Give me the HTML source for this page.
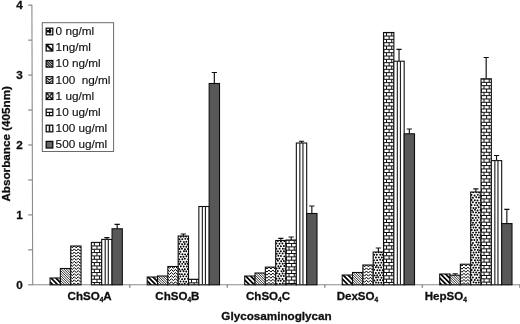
<!DOCTYPE html>
<html><head><meta charset="utf-8"><title>Glycosaminoglycan absorbance</title>
<style>
html,body{margin:0;padding:0;background:#fff;}
body{width:520px;height:324px;overflow:hidden;}
svg{display:block;will-change:transform;opacity:0.999;}
text{font-family:"Liberation Sans",Arial,sans-serif;fill:#111;}
.b{font-weight:bold;font-size:11.7px;stroke:#111;stroke-width:0.3px;}
.xl{font-size:11.55px;}
.sub{font-size:6.6px;}
.lg{font-size:11.75px;stroke:#111;stroke-width:0.15px;}
</style></head><body>
<svg width="520" height="324" viewBox="0 0 520 324">
<defs>
<filter id="soft" x="0" y="0" width="520" height="324" filterUnits="userSpaceOnUse"><feGaussianBlur stdDeviation="0.36"/></filter>
<clipPath id="c01"><rect x="50.05" y="278.00" width="10.33" height="6.80"/></clipPath>
<clipPath id="c02"><rect x="60.38" y="268.50" width="10.33" height="16.30"/></clipPath>
<clipPath id="c03"><rect x="70.71" y="246.00" width="10.33" height="38.80"/></clipPath>
<clipPath id="c05"><rect x="91.37" y="242.40" width="10.33" height="42.40"/></clipPath>
<clipPath id="c11"><rect x="147.20" y="277.00" width="10.33" height="7.80"/></clipPath>
<clipPath id="c12"><rect x="157.53" y="276.00" width="10.33" height="8.80"/></clipPath>
<clipPath id="c13"><rect x="167.86" y="266.50" width="10.33" height="18.30"/></clipPath>
<clipPath id="c14"><rect x="178.19" y="236.00" width="10.33" height="48.80"/></clipPath>
<clipPath id="c15"><rect x="188.52" y="279.30" width="10.33" height="5.50"/></clipPath>
<clipPath id="c21"><rect x="244.70" y="276.00" width="10.33" height="8.80"/></clipPath>
<clipPath id="c22"><rect x="255.03" y="273.00" width="10.33" height="11.80"/></clipPath>
<clipPath id="c23"><rect x="265.36" y="267.10" width="10.33" height="17.70"/></clipPath>
<clipPath id="c24"><rect x="275.69" y="240.50" width="10.33" height="44.30"/></clipPath>
<clipPath id="c25"><rect x="286.02" y="240.00" width="10.33" height="44.80"/></clipPath>
<clipPath id="c31"><rect x="342.20" y="275.00" width="10.33" height="9.80"/></clipPath>
<clipPath id="c32"><rect x="352.53" y="272.50" width="10.33" height="12.30"/></clipPath>
<clipPath id="c33"><rect x="362.86" y="265.00" width="10.33" height="19.80"/></clipPath>
<clipPath id="c34"><rect x="373.19" y="252.00" width="10.33" height="32.80"/></clipPath>
<clipPath id="c35"><rect x="383.52" y="32.50" width="10.33" height="252.30"/></clipPath>
<clipPath id="c41"><rect x="439.70" y="274.00" width="10.33" height="10.80"/></clipPath>
<clipPath id="c42"><rect x="450.03" y="275.20" width="10.33" height="9.60"/></clipPath>
<clipPath id="c43"><rect x="460.36" y="264.20" width="10.33" height="20.60"/></clipPath>
<clipPath id="c44"><rect x="470.69" y="192.00" width="10.33" height="92.80"/></clipPath>
<clipPath id="c45"><rect x="481.02" y="78.80" width="10.33" height="206.00"/></clipPath>
</defs>
<rect width="520" height="324" fill="#fff"/>
<g filter="url(#soft)">
<!-- axes -->
<path d="M31.9 4.8L32.7 284.8H520" stroke="#8c8c8c" stroke-width="1.1" fill="none"/>
<path d="M28.2 284.80H32.70" stroke="#888" stroke-width="1.2"/>
<path d="M28.2 249.85H32.60" stroke="#888" stroke-width="1.2"/>
<path d="M28.2 214.90H32.50" stroke="#888" stroke-width="1.2"/>
<path d="M28.2 179.95H32.40" stroke="#888" stroke-width="1.2"/>
<path d="M28.2 145.00H32.30" stroke="#888" stroke-width="1.2"/>
<path d="M28.2 110.05H32.20" stroke="#888" stroke-width="1.2"/>
<path d="M28.2 75.10H32.10" stroke="#888" stroke-width="1.2"/>
<path d="M28.2 40.15H32.00" stroke="#888" stroke-width="1.2"/>
<path d="M28.2 5.20H31.90" stroke="#888" stroke-width="1.2"/>
<text x="22.8" y="288.50" class="b" text-anchor="end">0</text>
<text x="22.8" y="218.60" class="b" text-anchor="end">1</text>
<text x="22.8" y="148.70" class="b" text-anchor="end">2</text>
<text x="22.8" y="78.80" class="b" text-anchor="end">3</text>
<text x="22.8" y="8.90" class="b" text-anchor="end">4</text>
<path d="M129.80 284.8V287.7" stroke="#888" stroke-width="1.3"/>
<path d="M227.30 284.8V287.7" stroke="#888" stroke-width="1.3"/>
<path d="M324.80 284.8V287.7" stroke="#888" stroke-width="1.3"/>
<path d="M422.30 284.8V287.7" stroke="#888" stroke-width="1.3"/>
<path d="M519.80 284.8V287.7" stroke="#888" stroke-width="1.3"/>
<!-- bars -->
<rect x="50.05" y="278.00" width="10.33" height="6.80" fill="#fff"/>
<g clip-path="url(#c01)"><path d="M40.15 277.00L48.95 285.80M45.05 277.00L53.85 285.80M49.95 277.00L58.75 285.80M54.85 277.00L63.65 285.80M59.75 277.00L68.55 285.80M64.65 277.00L73.45 285.80" stroke="#000" stroke-width="1.75" fill="none"/></g>
<rect x="50.05" y="278.00" width="10.33" height="6.80" fill="none" stroke="#111" stroke-width="1.1"/>
<rect x="60.38" y="268.50" width="10.33" height="16.30" fill="#fff"/>
<g clip-path="url(#c02)"><path d="M40.28 267.50L58.58 285.80M42.73 267.50L61.03 285.80M45.18 267.50L63.48 285.80M47.63 267.50L65.93 285.80M50.08 267.50L68.38 285.80M52.53 267.50L70.83 285.80M54.98 267.50L73.28 285.80M57.43 267.50L75.73 285.80M59.88 267.50L78.18 285.80M62.33 267.50L80.63 285.80M64.78 267.50L83.08 285.80M67.23 267.50L85.53 285.80M69.68 267.50L87.98 285.80M72.13 267.50L90.43 285.80" stroke="#111" stroke-width="0.88" fill="none"/></g>
<rect x="60.38" y="268.50" width="10.33" height="16.30" fill="none" stroke="#111" stroke-width="1.1"/>
<rect x="70.71" y="246.00" width="10.33" height="38.80" fill="#fff"/>
<g clip-path="url(#c03)"><path d="M68.36 244.81L70.33 242.71L72.31 244.81L74.28 242.71L76.26 244.81L78.23 242.71L80.21 244.81L82.18 242.71L84.16 244.81M68.36 247.90L70.33 245.80L72.31 247.90L74.28 245.80L76.26 247.90L78.23 245.80L80.21 247.90L82.18 245.80L84.16 247.90M68.36 250.99L70.33 248.89L72.31 250.99L74.28 248.89L76.26 250.99L78.23 248.89L80.21 250.99L82.18 248.89L84.16 250.99M68.36 254.08L70.33 251.98L72.31 254.08L74.28 251.98L76.26 254.08L78.23 251.98L80.21 254.08L82.18 251.98L84.16 254.08M68.36 257.17L70.33 255.07L72.31 257.17L74.28 255.07L76.26 257.17L78.23 255.07L80.21 257.17L82.18 255.07L84.16 257.17M68.36 260.26L70.33 258.16L72.31 260.26L74.28 258.16L76.26 260.26L78.23 258.16L80.21 260.26L82.18 258.16L84.16 260.26M68.36 263.35L70.33 261.25L72.31 263.35L74.28 261.25L76.26 263.35L78.23 261.25L80.21 263.35L82.18 261.25L84.16 263.35M68.36 266.44L70.33 264.34L72.31 266.44L74.28 264.34L76.26 266.44L78.23 264.34L80.21 266.44L82.18 264.34L84.16 266.44M68.36 269.53L70.33 267.43L72.31 269.53L74.28 267.43L76.26 269.53L78.23 267.43L80.21 269.53L82.18 267.43L84.16 269.53M68.36 272.62L70.33 270.52L72.31 272.62L74.28 270.52L76.26 272.62L78.23 270.52L80.21 272.62L82.18 270.52L84.16 272.62M68.36 275.71L70.33 273.61L72.31 275.71L74.28 273.61L76.26 275.71L78.23 273.61L80.21 275.71L82.18 273.61L84.16 275.71M68.36 278.80L70.33 276.70L72.31 278.80L74.28 276.70L76.26 278.80L78.23 276.70L80.21 278.80L82.18 276.70L84.16 278.80M68.36 281.89L70.33 279.79L72.31 281.89L74.28 279.79L76.26 281.89L78.23 279.79L80.21 281.89L82.18 279.79L84.16 281.89M68.36 284.98L70.33 282.88L72.31 284.98L74.28 282.88L76.26 284.98L78.23 282.88L80.21 284.98L82.18 282.88L84.16 284.98M68.36 288.07L70.33 285.97L72.31 288.07L74.28 285.97L76.26 288.07L78.23 285.97L80.21 288.07L82.18 285.97L84.16 288.07M68.36 291.16L70.33 289.06L72.31 291.16L74.28 289.06L76.26 291.16L78.23 289.06L80.21 291.16L82.18 289.06L84.16 291.16" stroke="#000" stroke-width="1.0" fill="none" stroke-linejoin="miter"/></g>
<rect x="70.71" y="246.00" width="10.33" height="38.80" fill="none" stroke="#111" stroke-width="1.1"/>
<rect x="91.37" y="242.40" width="10.33" height="42.40" fill="#fff"/>
<g clip-path="url(#c05)"><path d="M91.37 242.60H101.70M94.37 242.60V245.93M99.57 242.60V245.93M91.37 245.93H101.70M91.77 245.93V249.26M96.97 245.93V249.26M91.37 249.26H101.70M94.37 249.26V252.59M99.57 249.26V252.59M91.37 252.59H101.70M91.77 252.59V255.92M96.97 252.59V255.92M91.37 255.92H101.70M94.37 255.92V259.25M99.57 255.92V259.25M91.37 259.25H101.70M91.77 259.25V262.58M96.97 259.25V262.58M91.37 262.58H101.70M94.37 262.58V265.91M99.57 262.58V265.91M91.37 265.91H101.70M91.77 265.91V269.24M96.97 265.91V269.24M91.37 269.24H101.70M94.37 269.24V272.57M99.57 269.24V272.57M91.37 272.57H101.70M91.77 272.57V275.90M96.97 272.57V275.90M91.37 275.90H101.70M94.37 275.90V279.23M99.57 275.90V279.23M91.37 279.23H101.70M91.77 279.23V282.56M96.97 279.23V282.56M91.37 282.56H101.70M94.37 282.56V285.89M99.57 282.56V285.89M91.37 285.89H101.70M91.77 285.89V289.22M96.97 285.89V289.22" stroke="#111" stroke-width="1.0" fill="none"/></g>
<rect x="91.37" y="242.40" width="10.33" height="42.40" fill="none" stroke="#111" stroke-width="1.1"/>
<rect x="101.70" y="239.40" width="10.33" height="45.40" fill="#fff" stroke="#111" stroke-width="1.1"/>
<path d="M105.20 239.40V284.8M108.30 239.40V284.8" stroke="#222" stroke-width="1.15" fill="none"/>
<path d="M106.86 239.40V237.60M104.27 237.60H109.46" stroke="#111" stroke-width="1.15" fill="none"/>
<rect x="112.03" y="228.80" width="10.33" height="56.00" fill="#595959" stroke="#111" stroke-width="1.1"/>
<path d="M117.20 228.80V224.30M114.60 224.30H119.80" stroke="#111" stroke-width="1.15" fill="none"/>
<rect x="147.20" y="277.00" width="10.33" height="7.80" fill="#fff"/>
<g clip-path="url(#c11)"><path d="M132.40 276.00L142.20 285.80M137.30 276.00L147.10 285.80M142.20 276.00L152.00 285.80M147.10 276.00L156.90 285.80M152.00 276.00L161.80 285.80M156.90 276.00L166.70 285.80M161.80 276.00L171.60 285.80" stroke="#000" stroke-width="1.75" fill="none"/></g>
<rect x="147.20" y="277.00" width="10.33" height="7.80" fill="none" stroke="#111" stroke-width="1.1"/>
<rect x="157.53" y="276.00" width="10.33" height="8.80" fill="#fff"/>
<g clip-path="url(#c12)"><path d="M144.78 275.00L155.58 285.80M147.23 275.00L158.03 285.80M149.68 275.00L160.48 285.80M152.13 275.00L162.93 285.80M154.58 275.00L165.38 285.80M157.03 275.00L167.83 285.80M159.48 275.00L170.28 285.80M161.93 275.00L172.73 285.80M164.38 275.00L175.18 285.80M166.83 275.00L177.63 285.80M169.28 275.00L180.08 285.80" stroke="#111" stroke-width="0.88" fill="none"/></g>
<rect x="157.53" y="276.00" width="10.33" height="8.80" fill="none" stroke="#111" stroke-width="1.1"/>
<rect x="167.86" y="266.50" width="10.33" height="18.30" fill="#fff"/>
<g clip-path="url(#c13)"><path d="M165.51 265.31L167.49 263.21L169.46 265.31L171.44 263.21L173.41 265.31L175.38 263.21L177.36 265.31L179.33 263.21L181.31 265.31M165.51 268.40L167.49 266.30L169.46 268.40L171.44 266.30L173.41 268.40L175.38 266.30L177.36 268.40L179.33 266.30L181.31 268.40M165.51 271.49L167.49 269.39L169.46 271.49L171.44 269.39L173.41 271.49L175.38 269.39L177.36 271.49L179.33 269.39L181.31 271.49M165.51 274.58L167.49 272.48L169.46 274.58L171.44 272.48L173.41 274.58L175.38 272.48L177.36 274.58L179.33 272.48L181.31 274.58M165.51 277.67L167.49 275.57L169.46 277.67L171.44 275.57L173.41 277.67L175.38 275.57L177.36 277.67L179.33 275.57L181.31 277.67M165.51 280.76L167.49 278.66L169.46 280.76L171.44 278.66L173.41 280.76L175.38 278.66L177.36 280.76L179.33 278.66L181.31 280.76M165.51 283.85L167.49 281.75L169.46 283.85L171.44 281.75L173.41 283.85L175.38 281.75L177.36 283.85L179.33 281.75L181.31 283.85M165.51 286.94L167.49 284.84L169.46 286.94L171.44 284.84L173.41 286.94L175.38 284.84L177.36 286.94L179.33 284.84L181.31 286.94M165.51 290.03L167.49 287.93L169.46 290.03L171.44 287.93L173.41 290.03L175.38 287.93L177.36 290.03L179.33 287.93L181.31 290.03" stroke="#000" stroke-width="1.0" fill="none" stroke-linejoin="miter"/></g>
<rect x="167.86" y="266.50" width="10.33" height="18.30" fill="none" stroke="#111" stroke-width="1.1"/>
<rect x="178.19" y="236.00" width="10.33" height="48.80" fill="#fff"/>
<g clip-path="url(#c14)"><path d="M178.35 234.28a0.98 0.98 0 1 0 1.96 0a0.98 0.98 0 1 0 -1.96 0M181.38 233.83a0.98 0.98 0 1 0 1.96 0a0.98 0.98 0 1 0 -1.96 0M183.99 233.97a0.98 0.98 0 1 0 1.96 0a0.98 0.98 0 1 0 -1.96 0M186.95 234.15a0.98 0.98 0 1 0 1.96 0a0.98 0.98 0 1 0 -1.96 0M176.96 236.31a0.98 0.98 0 1 0 1.96 0a0.98 0.98 0 1 0 -1.96 0M179.79 236.76a0.98 0.98 0 1 0 1.96 0a0.98 0.98 0 1 0 -1.96 0M182.60 236.55a0.98 0.98 0 1 0 1.96 0a0.98 0.98 0 1 0 -1.96 0M185.22 236.44a0.98 0.98 0 1 0 1.96 0a0.98 0.98 0 1 0 -1.96 0M188.65 236.74a0.98 0.98 0 1 0 1.96 0a0.98 0.98 0 1 0 -1.96 0M178.55 239.26a0.98 0.98 0 1 0 1.96 0a0.98 0.98 0 1 0 -1.96 0M181.34 239.32a0.98 0.98 0 1 0 1.96 0a0.98 0.98 0 1 0 -1.96 0M184.30 238.87a0.98 0.98 0 1 0 1.96 0a0.98 0.98 0 1 0 -1.96 0M186.86 238.89a0.98 0.98 0 1 0 1.96 0a0.98 0.98 0 1 0 -1.96 0M176.47 241.66a0.98 0.98 0 1 0 1.96 0a0.98 0.98 0 1 0 -1.96 0M179.53 241.57a0.98 0.98 0 1 0 1.96 0a0.98 0.98 0 1 0 -1.96 0M182.93 241.92a0.98 0.98 0 1 0 1.96 0a0.98 0.98 0 1 0 -1.96 0M185.38 241.80a0.98 0.98 0 1 0 1.96 0a0.98 0.98 0 1 0 -1.96 0M188.54 241.85a0.98 0.98 0 1 0 1.96 0a0.98 0.98 0 1 0 -1.96 0M178.30 243.77a0.98 0.98 0 1 0 1.96 0a0.98 0.98 0 1 0 -1.96 0M181.08 244.31a0.98 0.98 0 1 0 1.96 0a0.98 0.98 0 1 0 -1.96 0M183.74 244.09a0.98 0.98 0 1 0 1.96 0a0.98 0.98 0 1 0 -1.96 0M186.62 244.43a0.98 0.98 0 1 0 1.96 0a0.98 0.98 0 1 0 -1.96 0M176.55 246.55a0.98 0.98 0 1 0 1.96 0a0.98 0.98 0 1 0 -1.96 0M179.68 246.82a0.98 0.98 0 1 0 1.96 0a0.98 0.98 0 1 0 -1.96 0M182.60 246.48a0.98 0.98 0 1 0 1.96 0a0.98 0.98 0 1 0 -1.96 0M185.34 246.84a0.98 0.98 0 1 0 1.96 0a0.98 0.98 0 1 0 -1.96 0M188.26 246.40a0.98 0.98 0 1 0 1.96 0a0.98 0.98 0 1 0 -1.96 0M178.47 248.99a0.98 0.98 0 1 0 1.96 0a0.98 0.98 0 1 0 -1.96 0M180.97 248.80a0.98 0.98 0 1 0 1.96 0a0.98 0.98 0 1 0 -1.96 0M183.96 249.19a0.98 0.98 0 1 0 1.96 0a0.98 0.98 0 1 0 -1.96 0M186.95 249.02a0.98 0.98 0 1 0 1.96 0a0.98 0.98 0 1 0 -1.96 0M176.56 251.47a0.98 0.98 0 1 0 1.96 0a0.98 0.98 0 1 0 -1.96 0M179.39 251.71a0.98 0.98 0 1 0 1.96 0a0.98 0.98 0 1 0 -1.96 0M182.93 251.26a0.98 0.98 0 1 0 1.96 0a0.98 0.98 0 1 0 -1.96 0M185.23 251.35a0.98 0.98 0 1 0 1.96 0a0.98 0.98 0 1 0 -1.96 0M188.49 251.45a0.98 0.98 0 1 0 1.96 0a0.98 0.98 0 1 0 -1.96 0M178.48 253.88a0.98 0.98 0 1 0 1.96 0a0.98 0.98 0 1 0 -1.96 0M181.44 254.25a0.98 0.98 0 1 0 1.96 0a0.98 0.98 0 1 0 -1.96 0M184.10 254.36a0.98 0.98 0 1 0 1.96 0a0.98 0.98 0 1 0 -1.96 0M186.95 254.33a0.98 0.98 0 1 0 1.96 0a0.98 0.98 0 1 0 -1.96 0M176.78 256.40a0.98 0.98 0 1 0 1.96 0a0.98 0.98 0 1 0 -1.96 0M179.77 256.81a0.98 0.98 0 1 0 1.96 0a0.98 0.98 0 1 0 -1.96 0M182.50 256.80a0.98 0.98 0 1 0 1.96 0a0.98 0.98 0 1 0 -1.96 0M185.36 256.27a0.98 0.98 0 1 0 1.96 0a0.98 0.98 0 1 0 -1.96 0M188.34 256.84a0.98 0.98 0 1 0 1.96 0a0.98 0.98 0 1 0 -1.96 0M178.34 259.38a0.98 0.98 0 1 0 1.96 0a0.98 0.98 0 1 0 -1.96 0M181.36 259.24a0.98 0.98 0 1 0 1.96 0a0.98 0.98 0 1 0 -1.96 0M183.87 258.85a0.98 0.98 0 1 0 1.96 0a0.98 0.98 0 1 0 -1.96 0M187.27 259.19a0.98 0.98 0 1 0 1.96 0a0.98 0.98 0 1 0 -1.96 0M177.07 261.62a0.98 0.98 0 1 0 1.96 0a0.98 0.98 0 1 0 -1.96 0M179.40 261.81a0.98 0.98 0 1 0 1.96 0a0.98 0.98 0 1 0 -1.96 0M182.68 261.92a0.98 0.98 0 1 0 1.96 0a0.98 0.98 0 1 0 -1.96 0M185.60 261.66a0.98 0.98 0 1 0 1.96 0a0.98 0.98 0 1 0 -1.96 0M188.38 261.40a0.98 0.98 0 1 0 1.96 0a0.98 0.98 0 1 0 -1.96 0M178.40 264.03a0.98 0.98 0 1 0 1.96 0a0.98 0.98 0 1 0 -1.96 0M181.22 263.87a0.98 0.98 0 1 0 1.96 0a0.98 0.98 0 1 0 -1.96 0M184.27 263.99a0.98 0.98 0 1 0 1.96 0a0.98 0.98 0 1 0 -1.96 0M186.69 263.76a0.98 0.98 0 1 0 1.96 0a0.98 0.98 0 1 0 -1.96 0M176.63 266.72a0.98 0.98 0 1 0 1.96 0a0.98 0.98 0 1 0 -1.96 0M179.81 266.25a0.98 0.98 0 1 0 1.96 0a0.98 0.98 0 1 0 -1.96 0M182.79 266.45a0.98 0.98 0 1 0 1.96 0a0.98 0.98 0 1 0 -1.96 0M185.80 266.59a0.98 0.98 0 1 0 1.96 0a0.98 0.98 0 1 0 -1.96 0M188.72 266.51a0.98 0.98 0 1 0 1.96 0a0.98 0.98 0 1 0 -1.96 0M178.36 269.17a0.98 0.98 0 1 0 1.96 0a0.98 0.98 0 1 0 -1.96 0M181.35 269.40a0.98 0.98 0 1 0 1.96 0a0.98 0.98 0 1 0 -1.96 0M183.87 269.14a0.98 0.98 0 1 0 1.96 0a0.98 0.98 0 1 0 -1.96 0M186.90 269.01a0.98 0.98 0 1 0 1.96 0a0.98 0.98 0 1 0 -1.96 0M176.50 271.33a0.98 0.98 0 1 0 1.96 0a0.98 0.98 0 1 0 -1.96 0M179.39 271.32a0.98 0.98 0 1 0 1.96 0a0.98 0.98 0 1 0 -1.96 0M182.66 271.28a0.98 0.98 0 1 0 1.96 0a0.98 0.98 0 1 0 -1.96 0M185.32 271.47a0.98 0.98 0 1 0 1.96 0a0.98 0.98 0 1 0 -1.96 0M188.15 271.50a0.98 0.98 0 1 0 1.96 0a0.98 0.98 0 1 0 -1.96 0M178.60 274.14a0.98 0.98 0 1 0 1.96 0a0.98 0.98 0 1 0 -1.96 0M180.98 274.14a0.98 0.98 0 1 0 1.96 0a0.98 0.98 0 1 0 -1.96 0M183.84 274.28a0.98 0.98 0 1 0 1.96 0a0.98 0.98 0 1 0 -1.96 0M186.98 274.15a0.98 0.98 0 1 0 1.96 0a0.98 0.98 0 1 0 -1.96 0M177.14 276.90a0.98 0.98 0 1 0 1.96 0a0.98 0.98 0 1 0 -1.96 0M179.45 276.53a0.98 0.98 0 1 0 1.96 0a0.98 0.98 0 1 0 -1.96 0M182.32 276.28a0.98 0.98 0 1 0 1.96 0a0.98 0.98 0 1 0 -1.96 0M185.43 276.39a0.98 0.98 0 1 0 1.96 0a0.98 0.98 0 1 0 -1.96 0M188.53 276.39a0.98 0.98 0 1 0 1.96 0a0.98 0.98 0 1 0 -1.96 0M177.91 278.83a0.98 0.98 0 1 0 1.96 0a0.98 0.98 0 1 0 -1.96 0M181.12 279.14a0.98 0.98 0 1 0 1.96 0a0.98 0.98 0 1 0 -1.96 0M183.78 279.04a0.98 0.98 0 1 0 1.96 0a0.98 0.98 0 1 0 -1.96 0M187.05 278.82a0.98 0.98 0 1 0 1.96 0a0.98 0.98 0 1 0 -1.96 0M176.50 281.56a0.98 0.98 0 1 0 1.96 0a0.98 0.98 0 1 0 -1.96 0M179.56 281.49a0.98 0.98 0 1 0 1.96 0a0.98 0.98 0 1 0 -1.96 0M182.55 281.47a0.98 0.98 0 1 0 1.96 0a0.98 0.98 0 1 0 -1.96 0M185.19 281.84a0.98 0.98 0 1 0 1.96 0a0.98 0.98 0 1 0 -1.96 0M188.73 281.58a0.98 0.98 0 1 0 1.96 0a0.98 0.98 0 1 0 -1.96 0M178.41 284.06a0.98 0.98 0 1 0 1.96 0a0.98 0.98 0 1 0 -1.96 0M181.08 284.34a0.98 0.98 0 1 0 1.96 0a0.98 0.98 0 1 0 -1.96 0M183.75 283.84a0.98 0.98 0 1 0 1.96 0a0.98 0.98 0 1 0 -1.96 0M186.81 284.16a0.98 0.98 0 1 0 1.96 0a0.98 0.98 0 1 0 -1.96 0M176.76 286.94a0.98 0.98 0 1 0 1.96 0a0.98 0.98 0 1 0 -1.96 0M179.85 286.64a0.98 0.98 0 1 0 1.96 0a0.98 0.98 0 1 0 -1.96 0M182.67 286.94a0.98 0.98 0 1 0 1.96 0a0.98 0.98 0 1 0 -1.96 0M185.72 286.41a0.98 0.98 0 1 0 1.96 0a0.98 0.98 0 1 0 -1.96 0M188.72 286.73a0.98 0.98 0 1 0 1.96 0a0.98 0.98 0 1 0 -1.96 0" fill="#000"/></g>
<rect x="178.19" y="236.00" width="10.33" height="48.80" fill="none" stroke="#111" stroke-width="1.1"/>
<path d="M183.35 236.00V234.00M180.75 234.00H185.95" stroke="#111" stroke-width="1.15" fill="none"/>
<rect x="188.52" y="279.30" width="10.33" height="5.50" fill="#fff"/>
<g clip-path="url(#c15)"><path d="M188.52 279.50H198.85M191.52 279.50V282.83M196.72 279.50V282.83M188.52 282.83H198.85M188.92 282.83V286.16M194.12 282.83V286.16M188.52 286.16H198.85M191.52 286.16V289.49M196.72 286.16V289.49" stroke="#111" stroke-width="1.0" fill="none"/></g>
<rect x="188.52" y="279.30" width="10.33" height="5.50" fill="none" stroke="#111" stroke-width="1.1"/>
<rect x="198.85" y="206.50" width="10.33" height="78.30" fill="#fff" stroke="#111" stroke-width="1.1"/>
<path d="M202.35 206.50V284.8M205.45 206.50V284.8" stroke="#222" stroke-width="1.15" fill="none"/>
<rect x="209.18" y="83.50" width="10.33" height="201.30" fill="#595959" stroke="#111" stroke-width="1.1"/>
<path d="M214.34 83.50V72.50M211.75 72.50H216.94" stroke="#111" stroke-width="1.15" fill="none"/>
<rect x="244.70" y="276.00" width="10.33" height="8.80" fill="#fff"/>
<g clip-path="url(#c21)"><path d="M229.90 275.00L240.70 285.80M234.80 275.00L245.60 285.80M239.70 275.00L250.50 285.80M244.60 275.00L255.40 285.80M249.50 275.00L260.30 285.80M254.40 275.00L265.20 285.80M259.30 275.00L270.10 285.80" stroke="#000" stroke-width="1.75" fill="none"/></g>
<rect x="244.70" y="276.00" width="10.33" height="8.80" fill="none" stroke="#111" stroke-width="1.1"/>
<rect x="255.03" y="273.00" width="10.33" height="11.80" fill="#fff"/>
<g clip-path="url(#c22)"><path d="M239.83 272.00L253.63 285.80M242.28 272.00L256.08 285.80M244.73 272.00L258.53 285.80M247.18 272.00L260.98 285.80M249.63 272.00L263.43 285.80M252.08 272.00L265.88 285.80M254.53 272.00L268.33 285.80M256.98 272.00L270.78 285.80M259.43 272.00L273.23 285.80M261.88 272.00L275.68 285.80M264.33 272.00L278.13 285.80M266.78 272.00L280.58 285.80" stroke="#111" stroke-width="0.88" fill="none"/></g>
<rect x="255.03" y="273.00" width="10.33" height="11.80" fill="none" stroke="#111" stroke-width="1.1"/>
<rect x="265.36" y="267.10" width="10.33" height="17.70" fill="#fff"/>
<g clip-path="url(#c23)"><path d="M263.01 265.91L264.99 263.81L266.96 265.91L268.94 263.81L270.91 265.91L272.89 263.81L274.86 265.91L276.84 263.81L278.81 265.91M263.01 269.00L264.99 266.90L266.96 269.00L268.94 266.90L270.91 269.00L272.89 266.90L274.86 269.00L276.84 266.90L278.81 269.00M263.01 272.09L264.99 269.99L266.96 272.09L268.94 269.99L270.91 272.09L272.89 269.99L274.86 272.09L276.84 269.99L278.81 272.09M263.01 275.18L264.99 273.08L266.96 275.18L268.94 273.08L270.91 275.18L272.89 273.08L274.86 275.18L276.84 273.08L278.81 275.18M263.01 278.27L264.99 276.17L266.96 278.27L268.94 276.17L270.91 278.27L272.89 276.17L274.86 278.27L276.84 276.17L278.81 278.27M263.01 281.36L264.99 279.26L266.96 281.36L268.94 279.26L270.91 281.36L272.89 279.26L274.86 281.36L276.84 279.26L278.81 281.36M263.01 284.45L264.99 282.35L266.96 284.45L268.94 282.35L270.91 284.45L272.89 282.35L274.86 284.45L276.84 282.35L278.81 284.45M263.01 287.54L264.99 285.44L266.96 287.54L268.94 285.44L270.91 287.54L272.89 285.44L274.86 287.54L276.84 285.44L278.81 287.54M263.01 290.63L264.99 288.53L266.96 290.63L268.94 288.53L270.91 290.63L272.89 288.53L274.86 290.63L276.84 288.53L278.81 290.63" stroke="#000" stroke-width="1.0" fill="none" stroke-linejoin="miter"/></g>
<rect x="265.36" y="267.10" width="10.33" height="17.70" fill="none" stroke="#111" stroke-width="1.1"/>
<rect x="275.69" y="240.50" width="10.33" height="44.30" fill="#fff"/>
<g clip-path="url(#c24)"><path d="M276.01 238.82a0.98 0.98 0 1 0 1.96 0a0.98 0.98 0 1 0 -1.96 0M278.51 238.33a0.98 0.98 0 1 0 1.96 0a0.98 0.98 0 1 0 -1.96 0M281.88 238.71a0.98 0.98 0 1 0 1.96 0a0.98 0.98 0 1 0 -1.96 0M284.33 238.68a0.98 0.98 0 1 0 1.96 0a0.98 0.98 0 1 0 -1.96 0M274.18 241.37a0.98 0.98 0 1 0 1.96 0a0.98 0.98 0 1 0 -1.96 0M276.86 241.11a0.98 0.98 0 1 0 1.96 0a0.98 0.98 0 1 0 -1.96 0M279.93 241.41a0.98 0.98 0 1 0 1.96 0a0.98 0.98 0 1 0 -1.96 0M283.26 241.00a0.98 0.98 0 1 0 1.96 0a0.98 0.98 0 1 0 -1.96 0M285.92 240.81a0.98 0.98 0 1 0 1.96 0a0.98 0.98 0 1 0 -1.96 0M275.43 243.38a0.98 0.98 0 1 0 1.96 0a0.98 0.98 0 1 0 -1.96 0M278.48 243.65a0.98 0.98 0 1 0 1.96 0a0.98 0.98 0 1 0 -1.96 0M281.47 243.44a0.98 0.98 0 1 0 1.96 0a0.98 0.98 0 1 0 -1.96 0M284.79 243.39a0.98 0.98 0 1 0 1.96 0a0.98 0.98 0 1 0 -1.96 0M274.09 246.27a0.98 0.98 0 1 0 1.96 0a0.98 0.98 0 1 0 -1.96 0M276.89 245.89a0.98 0.98 0 1 0 1.96 0a0.98 0.98 0 1 0 -1.96 0M279.88 246.16a0.98 0.98 0 1 0 1.96 0a0.98 0.98 0 1 0 -1.96 0M282.92 246.07a0.98 0.98 0 1 0 1.96 0a0.98 0.98 0 1 0 -1.96 0M285.91 246.42a0.98 0.98 0 1 0 1.96 0a0.98 0.98 0 1 0 -1.96 0M275.42 248.76a0.98 0.98 0 1 0 1.96 0a0.98 0.98 0 1 0 -1.96 0M278.59 248.62a0.98 0.98 0 1 0 1.96 0a0.98 0.98 0 1 0 -1.96 0M281.87 248.77a0.98 0.98 0 1 0 1.96 0a0.98 0.98 0 1 0 -1.96 0M284.29 248.91a0.98 0.98 0 1 0 1.96 0a0.98 0.98 0 1 0 -1.96 0M274.51 251.18a0.98 0.98 0 1 0 1.96 0a0.98 0.98 0 1 0 -1.96 0M276.98 251.33a0.98 0.98 0 1 0 1.96 0a0.98 0.98 0 1 0 -1.96 0M279.87 251.29a0.98 0.98 0 1 0 1.96 0a0.98 0.98 0 1 0 -1.96 0M282.99 251.32a0.98 0.98 0 1 0 1.96 0a0.98 0.98 0 1 0 -1.96 0M285.79 251.20a0.98 0.98 0 1 0 1.96 0a0.98 0.98 0 1 0 -1.96 0M275.76 253.74a0.98 0.98 0 1 0 1.96 0a0.98 0.98 0 1 0 -1.96 0M278.61 253.37a0.98 0.98 0 1 0 1.96 0a0.98 0.98 0 1 0 -1.96 0M281.63 253.46a0.98 0.98 0 1 0 1.96 0a0.98 0.98 0 1 0 -1.96 0M284.59 253.28a0.98 0.98 0 1 0 1.96 0a0.98 0.98 0 1 0 -1.96 0M274.62 256.34a0.98 0.98 0 1 0 1.96 0a0.98 0.98 0 1 0 -1.96 0M277.36 255.80a0.98 0.98 0 1 0 1.96 0a0.98 0.98 0 1 0 -1.96 0M279.95 255.96a0.98 0.98 0 1 0 1.96 0a0.98 0.98 0 1 0 -1.96 0M283.25 256.37a0.98 0.98 0 1 0 1.96 0a0.98 0.98 0 1 0 -1.96 0M285.86 256.06a0.98 0.98 0 1 0 1.96 0a0.98 0.98 0 1 0 -1.96 0M275.94 258.92a0.98 0.98 0 1 0 1.96 0a0.98 0.98 0 1 0 -1.96 0M278.37 258.77a0.98 0.98 0 1 0 1.96 0a0.98 0.98 0 1 0 -1.96 0M281.71 258.89a0.98 0.98 0 1 0 1.96 0a0.98 0.98 0 1 0 -1.96 0M284.77 258.40a0.98 0.98 0 1 0 1.96 0a0.98 0.98 0 1 0 -1.96 0M274.17 260.96a0.98 0.98 0 1 0 1.96 0a0.98 0.98 0 1 0 -1.96 0M276.95 260.79a0.98 0.98 0 1 0 1.96 0a0.98 0.98 0 1 0 -1.96 0M280.22 261.22a0.98 0.98 0 1 0 1.96 0a0.98 0.98 0 1 0 -1.96 0M282.92 261.10a0.98 0.98 0 1 0 1.96 0a0.98 0.98 0 1 0 -1.96 0M285.57 261.41a0.98 0.98 0 1 0 1.96 0a0.98 0.98 0 1 0 -1.96 0M275.52 263.66a0.98 0.98 0 1 0 1.96 0a0.98 0.98 0 1 0 -1.96 0M278.61 263.42a0.98 0.98 0 1 0 1.96 0a0.98 0.98 0 1 0 -1.96 0M281.71 263.66a0.98 0.98 0 1 0 1.96 0a0.98 0.98 0 1 0 -1.96 0M284.15 263.38a0.98 0.98 0 1 0 1.96 0a0.98 0.98 0 1 0 -1.96 0M274.16 266.25a0.98 0.98 0 1 0 1.96 0a0.98 0.98 0 1 0 -1.96 0M277.35 266.15a0.98 0.98 0 1 0 1.96 0a0.98 0.98 0 1 0 -1.96 0M279.85 266.31a0.98 0.98 0 1 0 1.96 0a0.98 0.98 0 1 0 -1.96 0M283.22 266.02a0.98 0.98 0 1 0 1.96 0a0.98 0.98 0 1 0 -1.96 0M285.78 266.43a0.98 0.98 0 1 0 1.96 0a0.98 0.98 0 1 0 -1.96 0M275.65 268.48a0.98 0.98 0 1 0 1.96 0a0.98 0.98 0 1 0 -1.96 0M278.37 268.31a0.98 0.98 0 1 0 1.96 0a0.98 0.98 0 1 0 -1.96 0M281.83 268.93a0.98 0.98 0 1 0 1.96 0a0.98 0.98 0 1 0 -1.96 0M284.61 268.86a0.98 0.98 0 1 0 1.96 0a0.98 0.98 0 1 0 -1.96 0M274.19 270.88a0.98 0.98 0 1 0 1.96 0a0.98 0.98 0 1 0 -1.96 0M276.87 271.06a0.98 0.98 0 1 0 1.96 0a0.98 0.98 0 1 0 -1.96 0M280.46 271.21a0.98 0.98 0 1 0 1.96 0a0.98 0.98 0 1 0 -1.96 0M282.78 271.11a0.98 0.98 0 1 0 1.96 0a0.98 0.98 0 1 0 -1.96 0M286.10 271.10a0.98 0.98 0 1 0 1.96 0a0.98 0.98 0 1 0 -1.96 0M275.82 273.30a0.98 0.98 0 1 0 1.96 0a0.98 0.98 0 1 0 -1.96 0M278.43 273.92a0.98 0.98 0 1 0 1.96 0a0.98 0.98 0 1 0 -1.96 0M281.61 273.58a0.98 0.98 0 1 0 1.96 0a0.98 0.98 0 1 0 -1.96 0M284.35 273.80a0.98 0.98 0 1 0 1.96 0a0.98 0.98 0 1 0 -1.96 0M273.99 276.32a0.98 0.98 0 1 0 1.96 0a0.98 0.98 0 1 0 -1.96 0M277.24 276.23a0.98 0.98 0 1 0 1.96 0a0.98 0.98 0 1 0 -1.96 0M280.10 275.88a0.98 0.98 0 1 0 1.96 0a0.98 0.98 0 1 0 -1.96 0M282.84 275.91a0.98 0.98 0 1 0 1.96 0a0.98 0.98 0 1 0 -1.96 0M286.10 276.40a0.98 0.98 0 1 0 1.96 0a0.98 0.98 0 1 0 -1.96 0M275.49 278.72a0.98 0.98 0 1 0 1.96 0a0.98 0.98 0 1 0 -1.96 0M278.47 278.46a0.98 0.98 0 1 0 1.96 0a0.98 0.98 0 1 0 -1.96 0M281.55 278.94a0.98 0.98 0 1 0 1.96 0a0.98 0.98 0 1 0 -1.96 0M284.69 278.60a0.98 0.98 0 1 0 1.96 0a0.98 0.98 0 1 0 -1.96 0M274.48 280.93a0.98 0.98 0 1 0 1.96 0a0.98 0.98 0 1 0 -1.96 0M277.31 280.84a0.98 0.98 0 1 0 1.96 0a0.98 0.98 0 1 0 -1.96 0M279.77 280.84a0.98 0.98 0 1 0 1.96 0a0.98 0.98 0 1 0 -1.96 0M282.93 280.97a0.98 0.98 0 1 0 1.96 0a0.98 0.98 0 1 0 -1.96 0M286.24 281.42a0.98 0.98 0 1 0 1.96 0a0.98 0.98 0 1 0 -1.96 0M275.69 283.81a0.98 0.98 0 1 0 1.96 0a0.98 0.98 0 1 0 -1.96 0M278.93 283.78a0.98 0.98 0 1 0 1.96 0a0.98 0.98 0 1 0 -1.96 0M281.76 283.35a0.98 0.98 0 1 0 1.96 0a0.98 0.98 0 1 0 -1.96 0M284.39 283.72a0.98 0.98 0 1 0 1.96 0a0.98 0.98 0 1 0 -1.96 0M274.62 286.18a0.98 0.98 0 1 0 1.96 0a0.98 0.98 0 1 0 -1.96 0M277.23 286.36a0.98 0.98 0 1 0 1.96 0a0.98 0.98 0 1 0 -1.96 0M280.44 286.24a0.98 0.98 0 1 0 1.96 0a0.98 0.98 0 1 0 -1.96 0M283.31 285.82a0.98 0.98 0 1 0 1.96 0a0.98 0.98 0 1 0 -1.96 0M285.63 285.82a0.98 0.98 0 1 0 1.96 0a0.98 0.98 0 1 0 -1.96 0" fill="#000"/></g>
<rect x="275.69" y="240.50" width="10.33" height="44.30" fill="none" stroke="#111" stroke-width="1.1"/>
<path d="M280.86 240.50V238.30M278.25 238.30H283.46" stroke="#111" stroke-width="1.15" fill="none"/>
<rect x="286.02" y="240.00" width="10.33" height="44.80" fill="#fff"/>
<g clip-path="url(#c25)"><path d="M286.02 240.20H296.35M289.02 240.20V243.53M294.22 240.20V243.53M286.02 243.53H296.35M286.42 243.53V246.86M291.62 243.53V246.86M286.02 246.86H296.35M289.02 246.86V250.19M294.22 246.86V250.19M286.02 250.19H296.35M286.42 250.19V253.52M291.62 250.19V253.52M286.02 253.52H296.35M289.02 253.52V256.85M294.22 253.52V256.85M286.02 256.85H296.35M286.42 256.85V260.18M291.62 256.85V260.18M286.02 260.18H296.35M289.02 260.18V263.51M294.22 260.18V263.51M286.02 263.51H296.35M286.42 263.51V266.84M291.62 263.51V266.84M286.02 266.84H296.35M289.02 266.84V270.17M294.22 266.84V270.17M286.02 270.17H296.35M286.42 270.17V273.50M291.62 270.17V273.50M286.02 273.50H296.35M289.02 273.50V276.83M294.22 273.50V276.83M286.02 276.83H296.35M286.42 276.83V280.16M291.62 276.83V280.16M286.02 280.16H296.35M289.02 280.16V283.49M294.22 280.16V283.49M286.02 283.49H296.35M286.42 283.49V286.82M291.62 283.49V286.82M286.02 286.82H296.35M289.02 286.82V290.15M294.22 286.82V290.15" stroke="#111" stroke-width="1.0" fill="none"/></g>
<rect x="286.02" y="240.00" width="10.33" height="44.80" fill="none" stroke="#111" stroke-width="1.1"/>
<path d="M291.19 240.00V237.00M288.58 237.00H293.79" stroke="#111" stroke-width="1.15" fill="none"/>
<rect x="296.35" y="143.00" width="10.33" height="141.80" fill="#fff" stroke="#111" stroke-width="1.1"/>
<path d="M299.85 143.00V284.8M302.95 143.00V284.8" stroke="#222" stroke-width="1.15" fill="none"/>
<path d="M301.52 143.00V141.20M298.92 141.20H304.12" stroke="#111" stroke-width="1.15" fill="none"/>
<rect x="306.68" y="213.50" width="10.33" height="71.30" fill="#595959" stroke="#111" stroke-width="1.1"/>
<path d="M311.85 213.50V206.00M309.25 206.00H314.45" stroke="#111" stroke-width="1.15" fill="none"/>
<rect x="342.20" y="275.00" width="10.33" height="9.80" fill="#fff"/>
<g clip-path="url(#c31)"><path d="M327.40 274.00L339.20 285.80M332.30 274.00L344.10 285.80M337.20 274.00L349.00 285.80M342.10 274.00L353.90 285.80M347.00 274.00L358.80 285.80M351.90 274.00L363.70 285.80M356.80 274.00L368.60 285.80" stroke="#000" stroke-width="1.75" fill="none"/></g>
<rect x="342.20" y="275.00" width="10.33" height="9.80" fill="none" stroke="#111" stroke-width="1.1"/>
<rect x="352.53" y="272.50" width="10.33" height="12.30" fill="#fff"/>
<g clip-path="url(#c32)"><path d="M334.88 271.50L349.18 285.80M337.33 271.50L351.63 285.80M339.78 271.50L354.08 285.80M342.23 271.50L356.53 285.80M344.68 271.50L358.98 285.80M347.13 271.50L361.43 285.80M349.58 271.50L363.88 285.80M352.03 271.50L366.33 285.80M354.48 271.50L368.78 285.80M356.93 271.50L371.23 285.80M359.38 271.50L373.68 285.80M361.83 271.50L376.13 285.80M364.28 271.50L378.58 285.80" stroke="#111" stroke-width="0.88" fill="none"/></g>
<rect x="352.53" y="272.50" width="10.33" height="12.30" fill="none" stroke="#111" stroke-width="1.1"/>
<rect x="362.86" y="265.00" width="10.33" height="19.80" fill="#fff"/>
<g clip-path="url(#c33)"><path d="M360.51 263.81L362.49 261.71L364.46 263.81L366.44 261.71L368.41 263.81L370.39 261.71L372.36 263.81L374.34 261.71L376.31 263.81M360.51 266.90L362.49 264.80L364.46 266.90L366.44 264.80L368.41 266.90L370.39 264.80L372.36 266.90L374.34 264.80L376.31 266.90M360.51 269.99L362.49 267.89L364.46 269.99L366.44 267.89L368.41 269.99L370.39 267.89L372.36 269.99L374.34 267.89L376.31 269.99M360.51 273.08L362.49 270.98L364.46 273.08L366.44 270.98L368.41 273.08L370.39 270.98L372.36 273.08L374.34 270.98L376.31 273.08M360.51 276.17L362.49 274.07L364.46 276.17L366.44 274.07L368.41 276.17L370.39 274.07L372.36 276.17L374.34 274.07L376.31 276.17M360.51 279.26L362.49 277.16L364.46 279.26L366.44 277.16L368.41 279.26L370.39 277.16L372.36 279.26L374.34 277.16L376.31 279.26M360.51 282.35L362.49 280.25L364.46 282.35L366.44 280.25L368.41 282.35L370.39 280.25L372.36 282.35L374.34 280.25L376.31 282.35M360.51 285.44L362.49 283.34L364.46 285.44L366.44 283.34L368.41 285.44L370.39 283.34L372.36 285.44L374.34 283.34L376.31 285.44M360.51 288.53L362.49 286.43L364.46 288.53L366.44 286.43L368.41 288.53L370.39 286.43L372.36 288.53L374.34 286.43L376.31 288.53M360.51 291.62L362.49 289.52L364.46 291.62L366.44 289.52L368.41 291.62L370.39 289.52L372.36 291.62L374.34 289.52L376.31 291.62" stroke="#000" stroke-width="1.0" fill="none" stroke-linejoin="miter"/></g>
<rect x="362.86" y="265.00" width="10.33" height="19.80" fill="none" stroke="#111" stroke-width="1.1"/>
<rect x="373.19" y="252.00" width="10.33" height="32.80" fill="#fff"/>
<g clip-path="url(#c34)"><path d="M373.29 250.26a0.98 0.98 0 1 0 1.96 0a0.98 0.98 0 1 0 -1.96 0M376.26 249.91a0.98 0.98 0 1 0 1.96 0a0.98 0.98 0 1 0 -1.96 0M379.14 250.38a0.98 0.98 0 1 0 1.96 0a0.98 0.98 0 1 0 -1.96 0M382.18 250.30a0.98 0.98 0 1 0 1.96 0a0.98 0.98 0 1 0 -1.96 0M371.49 252.73a0.98 0.98 0 1 0 1.96 0a0.98 0.98 0 1 0 -1.96 0M374.94 252.30a0.98 0.98 0 1 0 1.96 0a0.98 0.98 0 1 0 -1.96 0M377.74 252.29a0.98 0.98 0 1 0 1.96 0a0.98 0.98 0 1 0 -1.96 0M380.45 252.37a0.98 0.98 0 1 0 1.96 0a0.98 0.98 0 1 0 -1.96 0M383.51 252.55a0.98 0.98 0 1 0 1.96 0a0.98 0.98 0 1 0 -1.96 0M373.20 254.86a0.98 0.98 0 1 0 1.96 0a0.98 0.98 0 1 0 -1.96 0M375.81 254.80a0.98 0.98 0 1 0 1.96 0a0.98 0.98 0 1 0 -1.96 0M379.29 254.75a0.98 0.98 0 1 0 1.96 0a0.98 0.98 0 1 0 -1.96 0M381.62 254.82a0.98 0.98 0 1 0 1.96 0a0.98 0.98 0 1 0 -1.96 0M372.00 257.27a0.98 0.98 0 1 0 1.96 0a0.98 0.98 0 1 0 -1.96 0M374.87 257.45a0.98 0.98 0 1 0 1.96 0a0.98 0.98 0 1 0 -1.96 0M377.83 257.38a0.98 0.98 0 1 0 1.96 0a0.98 0.98 0 1 0 -1.96 0M380.81 257.48a0.98 0.98 0 1 0 1.96 0a0.98 0.98 0 1 0 -1.96 0M383.64 257.55a0.98 0.98 0 1 0 1.96 0a0.98 0.98 0 1 0 -1.96 0M372.97 260.25a0.98 0.98 0 1 0 1.96 0a0.98 0.98 0 1 0 -1.96 0M376.10 260.14a0.98 0.98 0 1 0 1.96 0a0.98 0.98 0 1 0 -1.96 0M379.24 259.77a0.98 0.98 0 1 0 1.96 0a0.98 0.98 0 1 0 -1.96 0M381.78 260.24a0.98 0.98 0 1 0 1.96 0a0.98 0.98 0 1 0 -1.96 0M372.03 262.47a0.98 0.98 0 1 0 1.96 0a0.98 0.98 0 1 0 -1.96 0M374.62 262.72a0.98 0.98 0 1 0 1.96 0a0.98 0.98 0 1 0 -1.96 0M377.45 262.63a0.98 0.98 0 1 0 1.96 0a0.98 0.98 0 1 0 -1.96 0M380.41 262.64a0.98 0.98 0 1 0 1.96 0a0.98 0.98 0 1 0 -1.96 0M383.58 262.29a0.98 0.98 0 1 0 1.96 0a0.98 0.98 0 1 0 -1.96 0M373.07 265.12a0.98 0.98 0 1 0 1.96 0a0.98 0.98 0 1 0 -1.96 0M375.84 265.40a0.98 0.98 0 1 0 1.96 0a0.98 0.98 0 1 0 -1.96 0M379.11 265.31a0.98 0.98 0 1 0 1.96 0a0.98 0.98 0 1 0 -1.96 0M382.29 265.01a0.98 0.98 0 1 0 1.96 0a0.98 0.98 0 1 0 -1.96 0M371.92 267.86a0.98 0.98 0 1 0 1.96 0a0.98 0.98 0 1 0 -1.96 0M374.83 267.33a0.98 0.98 0 1 0 1.96 0a0.98 0.98 0 1 0 -1.96 0M377.43 267.55a0.98 0.98 0 1 0 1.96 0a0.98 0.98 0 1 0 -1.96 0M380.21 267.52a0.98 0.98 0 1 0 1.96 0a0.98 0.98 0 1 0 -1.96 0M383.20 267.76a0.98 0.98 0 1 0 1.96 0a0.98 0.98 0 1 0 -1.96 0M373.14 269.81a0.98 0.98 0 1 0 1.96 0a0.98 0.98 0 1 0 -1.96 0M376.34 270.32a0.98 0.98 0 1 0 1.96 0a0.98 0.98 0 1 0 -1.96 0M378.83 270.29a0.98 0.98 0 1 0 1.96 0a0.98 0.98 0 1 0 -1.96 0M381.75 270.24a0.98 0.98 0 1 0 1.96 0a0.98 0.98 0 1 0 -1.96 0M371.98 272.84a0.98 0.98 0 1 0 1.96 0a0.98 0.98 0 1 0 -1.96 0M374.83 272.90a0.98 0.98 0 1 0 1.96 0a0.98 0.98 0 1 0 -1.96 0M377.89 272.91a0.98 0.98 0 1 0 1.96 0a0.98 0.98 0 1 0 -1.96 0M380.80 272.83a0.98 0.98 0 1 0 1.96 0a0.98 0.98 0 1 0 -1.96 0M383.42 272.65a0.98 0.98 0 1 0 1.96 0a0.98 0.98 0 1 0 -1.96 0M373.59 275.38a0.98 0.98 0 1 0 1.96 0a0.98 0.98 0 1 0 -1.96 0M376.16 275.25a0.98 0.98 0 1 0 1.96 0a0.98 0.98 0 1 0 -1.96 0M379.17 275.29a0.98 0.98 0 1 0 1.96 0a0.98 0.98 0 1 0 -1.96 0M382.06 275.25a0.98 0.98 0 1 0 1.96 0a0.98 0.98 0 1 0 -1.96 0M371.91 277.52a0.98 0.98 0 1 0 1.96 0a0.98 0.98 0 1 0 -1.96 0M375.05 277.56a0.98 0.98 0 1 0 1.96 0a0.98 0.98 0 1 0 -1.96 0M377.29 277.29a0.98 0.98 0 1 0 1.96 0a0.98 0.98 0 1 0 -1.96 0M380.48 277.83a0.98 0.98 0 1 0 1.96 0a0.98 0.98 0 1 0 -1.96 0M383.08 277.26a0.98 0.98 0 1 0 1.96 0a0.98 0.98 0 1 0 -1.96 0M373.39 280.40a0.98 0.98 0 1 0 1.96 0a0.98 0.98 0 1 0 -1.96 0M376.41 280.00a0.98 0.98 0 1 0 1.96 0a0.98 0.98 0 1 0 -1.96 0M379.22 280.02a0.98 0.98 0 1 0 1.96 0a0.98 0.98 0 1 0 -1.96 0M381.92 280.20a0.98 0.98 0 1 0 1.96 0a0.98 0.98 0 1 0 -1.96 0M372.15 282.88a0.98 0.98 0 1 0 1.96 0a0.98 0.98 0 1 0 -1.96 0M375.01 282.59a0.98 0.98 0 1 0 1.96 0a0.98 0.98 0 1 0 -1.96 0M377.51 282.67a0.98 0.98 0 1 0 1.96 0a0.98 0.98 0 1 0 -1.96 0M380.31 282.73a0.98 0.98 0 1 0 1.96 0a0.98 0.98 0 1 0 -1.96 0M383.70 282.76a0.98 0.98 0 1 0 1.96 0a0.98 0.98 0 1 0 -1.96 0M372.92 285.33a0.98 0.98 0 1 0 1.96 0a0.98 0.98 0 1 0 -1.96 0M376.00 285.31a0.98 0.98 0 1 0 1.96 0a0.98 0.98 0 1 0 -1.96 0M378.73 285.42a0.98 0.98 0 1 0 1.96 0a0.98 0.98 0 1 0 -1.96 0M381.66 284.88a0.98 0.98 0 1 0 1.96 0a0.98 0.98 0 1 0 -1.96 0M371.70 287.50a0.98 0.98 0 1 0 1.96 0a0.98 0.98 0 1 0 -1.96 0M374.75 287.38a0.98 0.98 0 1 0 1.96 0a0.98 0.98 0 1 0 -1.96 0M377.54 287.70a0.98 0.98 0 1 0 1.96 0a0.98 0.98 0 1 0 -1.96 0M380.65 287.39a0.98 0.98 0 1 0 1.96 0a0.98 0.98 0 1 0 -1.96 0M383.41 287.54a0.98 0.98 0 1 0 1.96 0a0.98 0.98 0 1 0 -1.96 0" fill="#000"/></g>
<rect x="373.19" y="252.00" width="10.33" height="32.80" fill="none" stroke="#111" stroke-width="1.1"/>
<path d="M378.36 252.00V248.00M375.75 248.00H380.96" stroke="#111" stroke-width="1.15" fill="none"/>
<rect x="383.52" y="32.50" width="10.33" height="252.30" fill="#fff"/>
<g clip-path="url(#c35)"><path d="M383.52 32.70H393.85M386.52 32.70V36.03M391.72 32.70V36.03M383.52 36.03H393.85M383.92 36.03V39.36M389.12 36.03V39.36M383.52 39.36H393.85M386.52 39.36V42.69M391.72 39.36V42.69M383.52 42.69H393.85M383.92 42.69V46.02M389.12 42.69V46.02M383.52 46.02H393.85M386.52 46.02V49.35M391.72 46.02V49.35M383.52 49.35H393.85M383.92 49.35V52.68M389.12 49.35V52.68M383.52 52.68H393.85M386.52 52.68V56.01M391.72 52.68V56.01M383.52 56.01H393.85M383.92 56.01V59.34M389.12 56.01V59.34M383.52 59.34H393.85M386.52 59.34V62.67M391.72 59.34V62.67M383.52 62.67H393.85M383.92 62.67V66.00M389.12 62.67V66.00M383.52 66.00H393.85M386.52 66.00V69.33M391.72 66.00V69.33M383.52 69.33H393.85M383.92 69.33V72.66M389.12 69.33V72.66M383.52 72.66H393.85M386.52 72.66V75.99M391.72 72.66V75.99M383.52 75.99H393.85M383.92 75.99V79.32M389.12 75.99V79.32M383.52 79.32H393.85M386.52 79.32V82.65M391.72 79.32V82.65M383.52 82.65H393.85M383.92 82.65V85.98M389.12 82.65V85.98M383.52 85.98H393.85M386.52 85.98V89.31M391.72 85.98V89.31M383.52 89.31H393.85M383.92 89.31V92.64M389.12 89.31V92.64M383.52 92.64H393.85M386.52 92.64V95.97M391.72 92.64V95.97M383.52 95.97H393.85M383.92 95.97V99.30M389.12 95.97V99.30M383.52 99.30H393.85M386.52 99.30V102.63M391.72 99.30V102.63M383.52 102.63H393.85M383.92 102.63V105.96M389.12 102.63V105.96M383.52 105.96H393.85M386.52 105.96V109.29M391.72 105.96V109.29M383.52 109.29H393.85M383.92 109.29V112.62M389.12 109.29V112.62M383.52 112.62H393.85M386.52 112.62V115.95M391.72 112.62V115.95M383.52 115.95H393.85M383.92 115.95V119.28M389.12 115.95V119.28M383.52 119.28H393.85M386.52 119.28V122.61M391.72 119.28V122.61M383.52 122.61H393.85M383.92 122.61V125.94M389.12 122.61V125.94M383.52 125.94H393.85M386.52 125.94V129.27M391.72 125.94V129.27M383.52 129.27H393.85M383.92 129.27V132.60M389.12 129.27V132.60M383.52 132.60H393.85M386.52 132.60V135.93M391.72 132.60V135.93M383.52 135.93H393.85M383.92 135.93V139.26M389.12 135.93V139.26M383.52 139.26H393.85M386.52 139.26V142.59M391.72 139.26V142.59M383.52 142.59H393.85M383.92 142.59V145.92M389.12 142.59V145.92M383.52 145.92H393.85M386.52 145.92V149.25M391.72 145.92V149.25M383.52 149.25H393.85M383.92 149.25V152.58M389.12 149.25V152.58M383.52 152.58H393.85M386.52 152.58V155.91M391.72 152.58V155.91M383.52 155.91H393.85M383.92 155.91V159.24M389.12 155.91V159.24M383.52 159.24H393.85M386.52 159.24V162.57M391.72 159.24V162.57M383.52 162.57H393.85M383.92 162.57V165.90M389.12 162.57V165.90M383.52 165.90H393.85M386.52 165.90V169.23M391.72 165.90V169.23M383.52 169.23H393.85M383.92 169.23V172.56M389.12 169.23V172.56M383.52 172.56H393.85M386.52 172.56V175.89M391.72 172.56V175.89M383.52 175.89H393.85M383.92 175.89V179.22M389.12 175.89V179.22M383.52 179.22H393.85M386.52 179.22V182.55M391.72 179.22V182.55M383.52 182.55H393.85M383.92 182.55V185.88M389.12 182.55V185.88M383.52 185.88H393.85M386.52 185.88V189.21M391.72 185.88V189.21M383.52 189.21H393.85M383.92 189.21V192.54M389.12 189.21V192.54M383.52 192.54H393.85M386.52 192.54V195.87M391.72 192.54V195.87M383.52 195.87H393.85M383.92 195.87V199.20M389.12 195.87V199.20M383.52 199.20H393.85M386.52 199.20V202.53M391.72 199.20V202.53M383.52 202.53H393.85M383.92 202.53V205.86M389.12 202.53V205.86M383.52 205.86H393.85M386.52 205.86V209.19M391.72 205.86V209.19M383.52 209.19H393.85M383.92 209.19V212.52M389.12 209.19V212.52M383.52 212.52H393.85M386.52 212.52V215.85M391.72 212.52V215.85M383.52 215.85H393.85M383.92 215.85V219.18M389.12 215.85V219.18M383.52 219.18H393.85M386.52 219.18V222.51M391.72 219.18V222.51M383.52 222.51H393.85M383.92 222.51V225.84M389.12 222.51V225.84M383.52 225.84H393.85M386.52 225.84V229.17M391.72 225.84V229.17M383.52 229.17H393.85M383.92 229.17V232.50M389.12 229.17V232.50M383.52 232.50H393.85M386.52 232.50V235.83M391.72 232.50V235.83M383.52 235.83H393.85M383.92 235.83V239.16M389.12 235.83V239.16M383.52 239.16H393.85M386.52 239.16V242.49M391.72 239.16V242.49M383.52 242.49H393.85M383.92 242.49V245.82M389.12 242.49V245.82M383.52 245.82H393.85M386.52 245.82V249.15M391.72 245.82V249.15M383.52 249.15H393.85M383.92 249.15V252.48M389.12 249.15V252.48M383.52 252.48H393.85M386.52 252.48V255.81M391.72 252.48V255.81M383.52 255.81H393.85M383.92 255.81V259.14M389.12 255.81V259.14M383.52 259.14H393.85M386.52 259.14V262.47M391.72 259.14V262.47M383.52 262.47H393.85M383.92 262.47V265.80M389.12 262.47V265.80M383.52 265.80H393.85M386.52 265.80V269.13M391.72 265.80V269.13M383.52 269.13H393.85M383.92 269.13V272.46M389.12 269.13V272.46M383.52 272.46H393.85M386.52 272.46V275.79M391.72 272.46V275.79M383.52 275.79H393.85M383.92 275.79V279.12M389.12 275.79V279.12M383.52 279.12H393.85M386.52 279.12V282.45M391.72 279.12V282.45M383.52 282.45H393.85M383.92 282.45V285.78M389.12 282.45V285.78M383.52 285.78H393.85M386.52 285.78V289.11M391.72 285.78V289.11" stroke="#111" stroke-width="1.0" fill="none"/></g>
<rect x="383.52" y="32.50" width="10.33" height="252.30" fill="none" stroke="#111" stroke-width="1.1"/>
<rect x="393.85" y="61.20" width="10.33" height="223.60" fill="#fff" stroke="#111" stroke-width="1.1"/>
<path d="M397.35 61.20V284.8M400.45 61.20V284.8" stroke="#222" stroke-width="1.15" fill="none"/>
<path d="M399.02 61.20V49.30M396.42 49.30H401.62" stroke="#111" stroke-width="1.15" fill="none"/>
<rect x="404.18" y="133.80" width="10.33" height="151.00" fill="#595959" stroke="#111" stroke-width="1.1"/>
<path d="M409.35 133.80V129.00M406.75 129.00H411.95" stroke="#111" stroke-width="1.15" fill="none"/>
<rect x="439.70" y="274.00" width="10.33" height="10.80" fill="#fff"/>
<g clip-path="url(#c41)"><path d="M424.90 273.00L437.70 285.80M429.80 273.00L442.60 285.80M434.70 273.00L447.50 285.80M439.60 273.00L452.40 285.80M444.50 273.00L457.30 285.80M449.40 273.00L462.20 285.80M454.30 273.00L467.10 285.80" stroke="#000" stroke-width="1.75" fill="none"/></g>
<rect x="439.70" y="274.00" width="10.33" height="10.80" fill="none" stroke="#111" stroke-width="1.1"/>
<rect x="450.03" y="275.20" width="10.33" height="9.60" fill="#fff"/>
<g clip-path="url(#c42)"><path d="M437.28 274.20L448.88 285.80M439.73 274.20L451.33 285.80M442.18 274.20L453.78 285.80M444.63 274.20L456.23 285.80M447.08 274.20L458.68 285.80M449.53 274.20L461.13 285.80M451.98 274.20L463.58 285.80M454.43 274.20L466.03 285.80M456.88 274.20L468.48 285.80M459.33 274.20L470.93 285.80M461.78 274.20L473.38 285.80" stroke="#111" stroke-width="0.88" fill="none"/></g>
<rect x="450.03" y="275.20" width="10.33" height="9.60" fill="none" stroke="#111" stroke-width="1.1"/>
<path d="M455.20 275.20V273.70M452.60 273.70H457.80" stroke="#111" stroke-width="1.15" fill="none"/>
<rect x="460.36" y="264.20" width="10.33" height="20.60" fill="#fff"/>
<g clip-path="url(#c43)"><path d="M458.01 263.01L459.99 260.91L461.96 263.01L463.94 260.91L465.91 263.01L467.89 260.91L469.86 263.01L471.84 260.91L473.81 263.01M458.01 266.10L459.99 264.00L461.96 266.10L463.94 264.00L465.91 266.10L467.89 264.00L469.86 266.10L471.84 264.00L473.81 266.10M458.01 269.19L459.99 267.09L461.96 269.19L463.94 267.09L465.91 269.19L467.89 267.09L469.86 269.19L471.84 267.09L473.81 269.19M458.01 272.28L459.99 270.18L461.96 272.28L463.94 270.18L465.91 272.28L467.89 270.18L469.86 272.28L471.84 270.18L473.81 272.28M458.01 275.37L459.99 273.27L461.96 275.37L463.94 273.27L465.91 275.37L467.89 273.27L469.86 275.37L471.84 273.27L473.81 275.37M458.01 278.46L459.99 276.36L461.96 278.46L463.94 276.36L465.91 278.46L467.89 276.36L469.86 278.46L471.84 276.36L473.81 278.46M458.01 281.55L459.99 279.45L461.96 281.55L463.94 279.45L465.91 281.55L467.89 279.45L469.86 281.55L471.84 279.45L473.81 281.55M458.01 284.64L459.99 282.54L461.96 284.64L463.94 282.54L465.91 284.64L467.89 282.54L469.86 284.64L471.84 282.54L473.81 284.64M458.01 287.73L459.99 285.63L461.96 287.73L463.94 285.63L465.91 287.73L467.89 285.63L469.86 287.73L471.84 285.63L473.81 287.73M458.01 290.82L459.99 288.72L461.96 290.82L463.94 288.72L465.91 290.82L467.89 288.72L469.86 290.82L471.84 288.72L473.81 290.82" stroke="#000" stroke-width="1.0" fill="none" stroke-linejoin="miter"/></g>
<rect x="460.36" y="264.20" width="10.33" height="20.60" fill="none" stroke="#111" stroke-width="1.1"/>
<rect x="470.69" y="192.00" width="10.33" height="92.80" fill="#fff"/>
<g clip-path="url(#c44)"><path d="M470.55 190.26a0.98 0.98 0 1 0 1.96 0a0.98 0.98 0 1 0 -1.96 0M473.95 190.34a0.98 0.98 0 1 0 1.96 0a0.98 0.98 0 1 0 -1.96 0M476.78 189.76a0.98 0.98 0 1 0 1.96 0a0.98 0.98 0 1 0 -1.96 0M479.75 189.83a0.98 0.98 0 1 0 1.96 0a0.98 0.98 0 1 0 -1.96 0M469.34 192.57a0.98 0.98 0 1 0 1.96 0a0.98 0.98 0 1 0 -1.96 0M472.09 192.33a0.98 0.98 0 1 0 1.96 0a0.98 0.98 0 1 0 -1.96 0M475.36 192.31a0.98 0.98 0 1 0 1.96 0a0.98 0.98 0 1 0 -1.96 0M478.21 192.47a0.98 0.98 0 1 0 1.96 0a0.98 0.98 0 1 0 -1.96 0M480.96 192.69a0.98 0.98 0 1 0 1.96 0a0.98 0.98 0 1 0 -1.96 0M470.50 195.01a0.98 0.98 0 1 0 1.96 0a0.98 0.98 0 1 0 -1.96 0M473.60 195.40a0.98 0.98 0 1 0 1.96 0a0.98 0.98 0 1 0 -1.96 0M476.87 194.87a0.98 0.98 0 1 0 1.96 0a0.98 0.98 0 1 0 -1.96 0M479.32 195.39a0.98 0.98 0 1 0 1.96 0a0.98 0.98 0 1 0 -1.96 0M469.57 197.82a0.98 0.98 0 1 0 1.96 0a0.98 0.98 0 1 0 -1.96 0M471.99 197.70a0.98 0.98 0 1 0 1.96 0a0.98 0.98 0 1 0 -1.96 0M475.27 197.27a0.98 0.98 0 1 0 1.96 0a0.98 0.98 0 1 0 -1.96 0M477.96 197.58a0.98 0.98 0 1 0 1.96 0a0.98 0.98 0 1 0 -1.96 0M480.92 197.59a0.98 0.98 0 1 0 1.96 0a0.98 0.98 0 1 0 -1.96 0M470.61 200.02a0.98 0.98 0 1 0 1.96 0a0.98 0.98 0 1 0 -1.96 0M473.82 200.16a0.98 0.98 0 1 0 1.96 0a0.98 0.98 0 1 0 -1.96 0M476.55 200.40a0.98 0.98 0 1 0 1.96 0a0.98 0.98 0 1 0 -1.96 0M479.78 200.21a0.98 0.98 0 1 0 1.96 0a0.98 0.98 0 1 0 -1.96 0M468.97 202.73a0.98 0.98 0 1 0 1.96 0a0.98 0.98 0 1 0 -1.96 0M471.96 202.26a0.98 0.98 0 1 0 1.96 0a0.98 0.98 0 1 0 -1.96 0M475.19 202.75a0.98 0.98 0 1 0 1.96 0a0.98 0.98 0 1 0 -1.96 0M477.93 202.88a0.98 0.98 0 1 0 1.96 0a0.98 0.98 0 1 0 -1.96 0M480.88 202.33a0.98 0.98 0 1 0 1.96 0a0.98 0.98 0 1 0 -1.96 0M470.58 205.09a0.98 0.98 0 1 0 1.96 0a0.98 0.98 0 1 0 -1.96 0M473.78 205.11a0.98 0.98 0 1 0 1.96 0a0.98 0.98 0 1 0 -1.96 0M476.41 205.33a0.98 0.98 0 1 0 1.96 0a0.98 0.98 0 1 0 -1.96 0M479.64 204.76a0.98 0.98 0 1 0 1.96 0a0.98 0.98 0 1 0 -1.96 0M469.51 207.71a0.98 0.98 0 1 0 1.96 0a0.98 0.98 0 1 0 -1.96 0M472.45 207.90a0.98 0.98 0 1 0 1.96 0a0.98 0.98 0 1 0 -1.96 0M475.03 207.89a0.98 0.98 0 1 0 1.96 0a0.98 0.98 0 1 0 -1.96 0M477.74 207.32a0.98 0.98 0 1 0 1.96 0a0.98 0.98 0 1 0 -1.96 0M480.87 207.57a0.98 0.98 0 1 0 1.96 0a0.98 0.98 0 1 0 -1.96 0M471.04 210.40a0.98 0.98 0 1 0 1.96 0a0.98 0.98 0 1 0 -1.96 0M473.99 209.81a0.98 0.98 0 1 0 1.96 0a0.98 0.98 0 1 0 -1.96 0M476.65 210.40a0.98 0.98 0 1 0 1.96 0a0.98 0.98 0 1 0 -1.96 0M479.54 210.07a0.98 0.98 0 1 0 1.96 0a0.98 0.98 0 1 0 -1.96 0M469.48 212.45a0.98 0.98 0 1 0 1.96 0a0.98 0.98 0 1 0 -1.96 0M472.24 212.27a0.98 0.98 0 1 0 1.96 0a0.98 0.98 0 1 0 -1.96 0M475.02 212.57a0.98 0.98 0 1 0 1.96 0a0.98 0.98 0 1 0 -1.96 0M477.98 212.84a0.98 0.98 0 1 0 1.96 0a0.98 0.98 0 1 0 -1.96 0M481.06 212.36a0.98 0.98 0 1 0 1.96 0a0.98 0.98 0 1 0 -1.96 0M470.63 214.89a0.98 0.98 0 1 0 1.96 0a0.98 0.98 0 1 0 -1.96 0M473.55 215.35a0.98 0.98 0 1 0 1.96 0a0.98 0.98 0 1 0 -1.96 0M476.30 215.39a0.98 0.98 0 1 0 1.96 0a0.98 0.98 0 1 0 -1.96 0M479.81 215.30a0.98 0.98 0 1 0 1.96 0a0.98 0.98 0 1 0 -1.96 0M469.62 217.82a0.98 0.98 0 1 0 1.96 0a0.98 0.98 0 1 0 -1.96 0M471.89 217.92a0.98 0.98 0 1 0 1.96 0a0.98 0.98 0 1 0 -1.96 0M474.88 217.88a0.98 0.98 0 1 0 1.96 0a0.98 0.98 0 1 0 -1.96 0M477.69 217.54a0.98 0.98 0 1 0 1.96 0a0.98 0.98 0 1 0 -1.96 0M481.08 217.32a0.98 0.98 0 1 0 1.96 0a0.98 0.98 0 1 0 -1.96 0M470.51 220.30a0.98 0.98 0 1 0 1.96 0a0.98 0.98 0 1 0 -1.96 0M473.33 220.20a0.98 0.98 0 1 0 1.96 0a0.98 0.98 0 1 0 -1.96 0M476.37 220.29a0.98 0.98 0 1 0 1.96 0a0.98 0.98 0 1 0 -1.96 0M479.68 219.86a0.98 0.98 0 1 0 1.96 0a0.98 0.98 0 1 0 -1.96 0M469.52 222.53a0.98 0.98 0 1 0 1.96 0a0.98 0.98 0 1 0 -1.96 0M471.99 222.82a0.98 0.98 0 1 0 1.96 0a0.98 0.98 0 1 0 -1.96 0M475.05 222.84a0.98 0.98 0 1 0 1.96 0a0.98 0.98 0 1 0 -1.96 0M478.35 222.56a0.98 0.98 0 1 0 1.96 0a0.98 0.98 0 1 0 -1.96 0M480.87 222.56a0.98 0.98 0 1 0 1.96 0a0.98 0.98 0 1 0 -1.96 0M471.03 225.05a0.98 0.98 0 1 0 1.96 0a0.98 0.98 0 1 0 -1.96 0M473.42 224.84a0.98 0.98 0 1 0 1.96 0a0.98 0.98 0 1 0 -1.96 0M476.72 225.31a0.98 0.98 0 1 0 1.96 0a0.98 0.98 0 1 0 -1.96 0M479.78 225.17a0.98 0.98 0 1 0 1.96 0a0.98 0.98 0 1 0 -1.96 0M469.60 227.56a0.98 0.98 0 1 0 1.96 0a0.98 0.98 0 1 0 -1.96 0M472.49 227.48a0.98 0.98 0 1 0 1.96 0a0.98 0.98 0 1 0 -1.96 0M474.92 227.43a0.98 0.98 0 1 0 1.96 0a0.98 0.98 0 1 0 -1.96 0M478.33 227.74a0.98 0.98 0 1 0 1.96 0a0.98 0.98 0 1 0 -1.96 0M480.72 227.62a0.98 0.98 0 1 0 1.96 0a0.98 0.98 0 1 0 -1.96 0M470.81 230.05a0.98 0.98 0 1 0 1.96 0a0.98 0.98 0 1 0 -1.96 0M473.79 230.14a0.98 0.98 0 1 0 1.96 0a0.98 0.98 0 1 0 -1.96 0M476.28 230.04a0.98 0.98 0 1 0 1.96 0a0.98 0.98 0 1 0 -1.96 0M479.73 230.12a0.98 0.98 0 1 0 1.96 0a0.98 0.98 0 1 0 -1.96 0M469.04 232.92a0.98 0.98 0 1 0 1.96 0a0.98 0.98 0 1 0 -1.96 0M472.09 232.62a0.98 0.98 0 1 0 1.96 0a0.98 0.98 0 1 0 -1.96 0M475.06 232.52a0.98 0.98 0 1 0 1.96 0a0.98 0.98 0 1 0 -1.96 0M477.84 232.60a0.98 0.98 0 1 0 1.96 0a0.98 0.98 0 1 0 -1.96 0M480.73 232.40a0.98 0.98 0 1 0 1.96 0a0.98 0.98 0 1 0 -1.96 0M471.07 234.90a0.98 0.98 0 1 0 1.96 0a0.98 0.98 0 1 0 -1.96 0M473.93 234.78a0.98 0.98 0 1 0 1.96 0a0.98 0.98 0 1 0 -1.96 0M476.61 235.00a0.98 0.98 0 1 0 1.96 0a0.98 0.98 0 1 0 -1.96 0M479.53 235.16a0.98 0.98 0 1 0 1.96 0a0.98 0.98 0 1 0 -1.96 0M469.59 237.50a0.98 0.98 0 1 0 1.96 0a0.98 0.98 0 1 0 -1.96 0M472.05 237.25a0.98 0.98 0 1 0 1.96 0a0.98 0.98 0 1 0 -1.96 0M475.39 237.46a0.98 0.98 0 1 0 1.96 0a0.98 0.98 0 1 0 -1.96 0M478.27 237.65a0.98 0.98 0 1 0 1.96 0a0.98 0.98 0 1 0 -1.96 0M480.61 237.41a0.98 0.98 0 1 0 1.96 0a0.98 0.98 0 1 0 -1.96 0M470.82 240.09a0.98 0.98 0 1 0 1.96 0a0.98 0.98 0 1 0 -1.96 0M473.42 239.98a0.98 0.98 0 1 0 1.96 0a0.98 0.98 0 1 0 -1.96 0M476.25 239.96a0.98 0.98 0 1 0 1.96 0a0.98 0.98 0 1 0 -1.96 0M479.52 239.75a0.98 0.98 0 1 0 1.96 0a0.98 0.98 0 1 0 -1.96 0M469.28 242.61a0.98 0.98 0 1 0 1.96 0a0.98 0.98 0 1 0 -1.96 0M471.97 242.94a0.98 0.98 0 1 0 1.96 0a0.98 0.98 0 1 0 -1.96 0M475.43 242.33a0.98 0.98 0 1 0 1.96 0a0.98 0.98 0 1 0 -1.96 0M477.79 242.42a0.98 0.98 0 1 0 1.96 0a0.98 0.98 0 1 0 -1.96 0M480.60 242.82a0.98 0.98 0 1 0 1.96 0a0.98 0.98 0 1 0 -1.96 0M470.96 244.93a0.98 0.98 0 1 0 1.96 0a0.98 0.98 0 1 0 -1.96 0M473.91 245.14a0.98 0.98 0 1 0 1.96 0a0.98 0.98 0 1 0 -1.96 0M476.80 244.76a0.98 0.98 0 1 0 1.96 0a0.98 0.98 0 1 0 -1.96 0M479.38 245.38a0.98 0.98 0 1 0 1.96 0a0.98 0.98 0 1 0 -1.96 0M469.61 247.41a0.98 0.98 0 1 0 1.96 0a0.98 0.98 0 1 0 -1.96 0M472.53 247.64a0.98 0.98 0 1 0 1.96 0a0.98 0.98 0 1 0 -1.96 0M475.13 247.31a0.98 0.98 0 1 0 1.96 0a0.98 0.98 0 1 0 -1.96 0M477.94 247.49a0.98 0.98 0 1 0 1.96 0a0.98 0.98 0 1 0 -1.96 0M481.15 247.75a0.98 0.98 0 1 0 1.96 0a0.98 0.98 0 1 0 -1.96 0M470.78 250.32a0.98 0.98 0 1 0 1.96 0a0.98 0.98 0 1 0 -1.96 0M473.91 249.81a0.98 0.98 0 1 0 1.96 0a0.98 0.98 0 1 0 -1.96 0M476.84 250.08a0.98 0.98 0 1 0 1.96 0a0.98 0.98 0 1 0 -1.96 0M479.12 250.35a0.98 0.98 0 1 0 1.96 0a0.98 0.98 0 1 0 -1.96 0M469.45 252.47a0.98 0.98 0 1 0 1.96 0a0.98 0.98 0 1 0 -1.96 0M472.55 252.58a0.98 0.98 0 1 0 1.96 0a0.98 0.98 0 1 0 -1.96 0M475.27 252.47a0.98 0.98 0 1 0 1.96 0a0.98 0.98 0 1 0 -1.96 0M477.80 252.32a0.98 0.98 0 1 0 1.96 0a0.98 0.98 0 1 0 -1.96 0M481.06 252.69a0.98 0.98 0 1 0 1.96 0a0.98 0.98 0 1 0 -1.96 0M471.06 255.22a0.98 0.98 0 1 0 1.96 0a0.98 0.98 0 1 0 -1.96 0M473.54 254.76a0.98 0.98 0 1 0 1.96 0a0.98 0.98 0 1 0 -1.96 0M476.77 255.24a0.98 0.98 0 1 0 1.96 0a0.98 0.98 0 1 0 -1.96 0M479.72 254.99a0.98 0.98 0 1 0 1.96 0a0.98 0.98 0 1 0 -1.96 0M469.63 257.45a0.98 0.98 0 1 0 1.96 0a0.98 0.98 0 1 0 -1.96 0M472.26 257.41a0.98 0.98 0 1 0 1.96 0a0.98 0.98 0 1 0 -1.96 0M475.11 257.86a0.98 0.98 0 1 0 1.96 0a0.98 0.98 0 1 0 -1.96 0M477.66 257.71a0.98 0.98 0 1 0 1.96 0a0.98 0.98 0 1 0 -1.96 0M480.68 257.34a0.98 0.98 0 1 0 1.96 0a0.98 0.98 0 1 0 -1.96 0M470.63 260.05a0.98 0.98 0 1 0 1.96 0a0.98 0.98 0 1 0 -1.96 0M473.97 260.33a0.98 0.98 0 1 0 1.96 0a0.98 0.98 0 1 0 -1.96 0M476.70 260.12a0.98 0.98 0 1 0 1.96 0a0.98 0.98 0 1 0 -1.96 0M479.23 260.21a0.98 0.98 0 1 0 1.96 0a0.98 0.98 0 1 0 -1.96 0M469.36 262.78a0.98 0.98 0 1 0 1.96 0a0.98 0.98 0 1 0 -1.96 0M472.02 262.69a0.98 0.98 0 1 0 1.96 0a0.98 0.98 0 1 0 -1.96 0M474.92 262.57a0.98 0.98 0 1 0 1.96 0a0.98 0.98 0 1 0 -1.96 0M477.71 262.55a0.98 0.98 0 1 0 1.96 0a0.98 0.98 0 1 0 -1.96 0M481.15 262.77a0.98 0.98 0 1 0 1.96 0a0.98 0.98 0 1 0 -1.96 0M470.90 265.02a0.98 0.98 0 1 0 1.96 0a0.98 0.98 0 1 0 -1.96 0M473.63 265.21a0.98 0.98 0 1 0 1.96 0a0.98 0.98 0 1 0 -1.96 0M476.34 264.76a0.98 0.98 0 1 0 1.96 0a0.98 0.98 0 1 0 -1.96 0M479.23 265.40a0.98 0.98 0 1 0 1.96 0a0.98 0.98 0 1 0 -1.96 0M469.05 267.28a0.98 0.98 0 1 0 1.96 0a0.98 0.98 0 1 0 -1.96 0M472.35 267.72a0.98 0.98 0 1 0 1.96 0a0.98 0.98 0 1 0 -1.96 0M474.97 267.73a0.98 0.98 0 1 0 1.96 0a0.98 0.98 0 1 0 -1.96 0M477.93 267.65a0.98 0.98 0 1 0 1.96 0a0.98 0.98 0 1 0 -1.96 0M481.12 267.94a0.98 0.98 0 1 0 1.96 0a0.98 0.98 0 1 0 -1.96 0M470.72 269.89a0.98 0.98 0 1 0 1.96 0a0.98 0.98 0 1 0 -1.96 0M473.79 270.36a0.98 0.98 0 1 0 1.96 0a0.98 0.98 0 1 0 -1.96 0M476.81 270.37a0.98 0.98 0 1 0 1.96 0a0.98 0.98 0 1 0 -1.96 0M479.66 270.14a0.98 0.98 0 1 0 1.96 0a0.98 0.98 0 1 0 -1.96 0M469.58 272.36a0.98 0.98 0 1 0 1.96 0a0.98 0.98 0 1 0 -1.96 0M472.36 272.36a0.98 0.98 0 1 0 1.96 0a0.98 0.98 0 1 0 -1.96 0M475.11 272.41a0.98 0.98 0 1 0 1.96 0a0.98 0.98 0 1 0 -1.96 0M478.10 272.75a0.98 0.98 0 1 0 1.96 0a0.98 0.98 0 1 0 -1.96 0M480.87 272.34a0.98 0.98 0 1 0 1.96 0a0.98 0.98 0 1 0 -1.96 0M470.51 274.88a0.98 0.98 0 1 0 1.96 0a0.98 0.98 0 1 0 -1.96 0M473.79 274.86a0.98 0.98 0 1 0 1.96 0a0.98 0.98 0 1 0 -1.96 0M476.24 274.81a0.98 0.98 0 1 0 1.96 0a0.98 0.98 0 1 0 -1.96 0M479.36 275.13a0.98 0.98 0 1 0 1.96 0a0.98 0.98 0 1 0 -1.96 0M469.08 277.33a0.98 0.98 0 1 0 1.96 0a0.98 0.98 0 1 0 -1.96 0M471.95 277.44a0.98 0.98 0 1 0 1.96 0a0.98 0.98 0 1 0 -1.96 0M475.24 277.91a0.98 0.98 0 1 0 1.96 0a0.98 0.98 0 1 0 -1.96 0M478.12 277.48a0.98 0.98 0 1 0 1.96 0a0.98 0.98 0 1 0 -1.96 0M481.23 277.71a0.98 0.98 0 1 0 1.96 0a0.98 0.98 0 1 0 -1.96 0M470.57 280.02a0.98 0.98 0 1 0 1.96 0a0.98 0.98 0 1 0 -1.96 0M473.79 279.98a0.98 0.98 0 1 0 1.96 0a0.98 0.98 0 1 0 -1.96 0M476.73 280.25a0.98 0.98 0 1 0 1.96 0a0.98 0.98 0 1 0 -1.96 0M479.33 280.15a0.98 0.98 0 1 0 1.96 0a0.98 0.98 0 1 0 -1.96 0M469.02 282.88a0.98 0.98 0 1 0 1.96 0a0.98 0.98 0 1 0 -1.96 0M472.56 282.31a0.98 0.98 0 1 0 1.96 0a0.98 0.98 0 1 0 -1.96 0M475.07 282.85a0.98 0.98 0 1 0 1.96 0a0.98 0.98 0 1 0 -1.96 0M477.82 282.41a0.98 0.98 0 1 0 1.96 0a0.98 0.98 0 1 0 -1.96 0M481.21 282.91a0.98 0.98 0 1 0 1.96 0a0.98 0.98 0 1 0 -1.96 0M470.64 285.32a0.98 0.98 0 1 0 1.96 0a0.98 0.98 0 1 0 -1.96 0M473.62 285.45a0.98 0.98 0 1 0 1.96 0a0.98 0.98 0 1 0 -1.96 0M476.89 284.87a0.98 0.98 0 1 0 1.96 0a0.98 0.98 0 1 0 -1.96 0M479.52 285.28a0.98 0.98 0 1 0 1.96 0a0.98 0.98 0 1 0 -1.96 0M469.22 287.63a0.98 0.98 0 1 0 1.96 0a0.98 0.98 0 1 0 -1.96 0M472.48 287.28a0.98 0.98 0 1 0 1.96 0a0.98 0.98 0 1 0 -1.96 0M475.07 287.57a0.98 0.98 0 1 0 1.96 0a0.98 0.98 0 1 0 -1.96 0M478.09 287.57a0.98 0.98 0 1 0 1.96 0a0.98 0.98 0 1 0 -1.96 0M480.71 287.94a0.98 0.98 0 1 0 1.96 0a0.98 0.98 0 1 0 -1.96 0" fill="#000"/></g>
<rect x="470.69" y="192.00" width="10.33" height="92.80" fill="none" stroke="#111" stroke-width="1.1"/>
<path d="M475.86 192.00V188.80M473.25 188.80H478.46" stroke="#111" stroke-width="1.15" fill="none"/>
<rect x="481.02" y="78.80" width="10.33" height="206.00" fill="#fff"/>
<g clip-path="url(#c45)"><path d="M481.02 79.00H491.35M484.02 79.00V82.33M489.22 79.00V82.33M481.02 82.33H491.35M481.42 82.33V85.66M486.62 82.33V85.66M481.02 85.66H491.35M484.02 85.66V88.99M489.22 85.66V88.99M481.02 88.99H491.35M481.42 88.99V92.32M486.62 88.99V92.32M481.02 92.32H491.35M484.02 92.32V95.65M489.22 92.32V95.65M481.02 95.65H491.35M481.42 95.65V98.98M486.62 95.65V98.98M481.02 98.98H491.35M484.02 98.98V102.31M489.22 98.98V102.31M481.02 102.31H491.35M481.42 102.31V105.64M486.62 102.31V105.64M481.02 105.64H491.35M484.02 105.64V108.97M489.22 105.64V108.97M481.02 108.97H491.35M481.42 108.97V112.30M486.62 108.97V112.30M481.02 112.30H491.35M484.02 112.30V115.63M489.22 112.30V115.63M481.02 115.63H491.35M481.42 115.63V118.96M486.62 115.63V118.96M481.02 118.96H491.35M484.02 118.96V122.29M489.22 118.96V122.29M481.02 122.29H491.35M481.42 122.29V125.62M486.62 122.29V125.62M481.02 125.62H491.35M484.02 125.62V128.95M489.22 125.62V128.95M481.02 128.95H491.35M481.42 128.95V132.28M486.62 128.95V132.28M481.02 132.28H491.35M484.02 132.28V135.61M489.22 132.28V135.61M481.02 135.61H491.35M481.42 135.61V138.94M486.62 135.61V138.94M481.02 138.94H491.35M484.02 138.94V142.27M489.22 138.94V142.27M481.02 142.27H491.35M481.42 142.27V145.60M486.62 142.27V145.60M481.02 145.60H491.35M484.02 145.60V148.93M489.22 145.60V148.93M481.02 148.93H491.35M481.42 148.93V152.26M486.62 148.93V152.26M481.02 152.26H491.35M484.02 152.26V155.59M489.22 152.26V155.59M481.02 155.59H491.35M481.42 155.59V158.92M486.62 155.59V158.92M481.02 158.92H491.35M484.02 158.92V162.25M489.22 158.92V162.25M481.02 162.25H491.35M481.42 162.25V165.58M486.62 162.25V165.58M481.02 165.58H491.35M484.02 165.58V168.91M489.22 165.58V168.91M481.02 168.91H491.35M481.42 168.91V172.24M486.62 168.91V172.24M481.02 172.24H491.35M484.02 172.24V175.57M489.22 172.24V175.57M481.02 175.57H491.35M481.42 175.57V178.90M486.62 175.57V178.90M481.02 178.90H491.35M484.02 178.90V182.23M489.22 178.90V182.23M481.02 182.23H491.35M481.42 182.23V185.56M486.62 182.23V185.56M481.02 185.56H491.35M484.02 185.56V188.89M489.22 185.56V188.89M481.02 188.89H491.35M481.42 188.89V192.22M486.62 188.89V192.22M481.02 192.22H491.35M484.02 192.22V195.55M489.22 192.22V195.55M481.02 195.55H491.35M481.42 195.55V198.88M486.62 195.55V198.88M481.02 198.88H491.35M484.02 198.88V202.21M489.22 198.88V202.21M481.02 202.21H491.35M481.42 202.21V205.54M486.62 202.21V205.54M481.02 205.54H491.35M484.02 205.54V208.87M489.22 205.54V208.87M481.02 208.87H491.35M481.42 208.87V212.20M486.62 208.87V212.20M481.02 212.20H491.35M484.02 212.20V215.53M489.22 212.20V215.53M481.02 215.53H491.35M481.42 215.53V218.86M486.62 215.53V218.86M481.02 218.86H491.35M484.02 218.86V222.19M489.22 218.86V222.19M481.02 222.19H491.35M481.42 222.19V225.52M486.62 222.19V225.52M481.02 225.52H491.35M484.02 225.52V228.85M489.22 225.52V228.85M481.02 228.85H491.35M481.42 228.85V232.18M486.62 228.85V232.18M481.02 232.18H491.35M484.02 232.18V235.51M489.22 232.18V235.51M481.02 235.51H491.35M481.42 235.51V238.84M486.62 235.51V238.84M481.02 238.84H491.35M484.02 238.84V242.17M489.22 238.84V242.17M481.02 242.17H491.35M481.42 242.17V245.50M486.62 242.17V245.50M481.02 245.50H491.35M484.02 245.50V248.83M489.22 245.50V248.83M481.02 248.83H491.35M481.42 248.83V252.16M486.62 248.83V252.16M481.02 252.16H491.35M484.02 252.16V255.49M489.22 252.16V255.49M481.02 255.49H491.35M481.42 255.49V258.82M486.62 255.49V258.82M481.02 258.82H491.35M484.02 258.82V262.15M489.22 258.82V262.15M481.02 262.15H491.35M481.42 262.15V265.48M486.62 262.15V265.48M481.02 265.48H491.35M484.02 265.48V268.81M489.22 265.48V268.81M481.02 268.81H491.35M481.42 268.81V272.14M486.62 268.81V272.14M481.02 272.14H491.35M484.02 272.14V275.47M489.22 272.14V275.47M481.02 275.47H491.35M481.42 275.47V278.80M486.62 275.47V278.80M481.02 278.80H491.35M484.02 278.80V282.13M489.22 278.80V282.13M481.02 282.13H491.35M481.42 282.13V285.46M486.62 282.13V285.46M481.02 285.46H491.35M484.02 285.46V288.79M489.22 285.46V288.79" stroke="#111" stroke-width="1.0" fill="none"/></g>
<rect x="481.02" y="78.80" width="10.33" height="206.00" fill="none" stroke="#111" stroke-width="1.1"/>
<path d="M486.19 78.80V57.50M483.58 57.50H488.79" stroke="#111" stroke-width="1.15" fill="none"/>
<rect x="491.35" y="160.60" width="10.33" height="124.20" fill="#fff" stroke="#111" stroke-width="1.1"/>
<path d="M494.85 160.60V284.8M497.95 160.60V284.8" stroke="#222" stroke-width="1.15" fill="none"/>
<path d="M496.52 160.60V155.50M493.92 155.50H499.12" stroke="#111" stroke-width="1.15" fill="none"/>
<rect x="501.68" y="223.60" width="10.33" height="61.20" fill="#595959" stroke="#111" stroke-width="1.1"/>
<path d="M506.85 223.60V209.30M504.25 209.30H509.45" stroke="#111" stroke-width="1.15" fill="none"/>
<!-- legend -->
<rect x="42.3" y="22.7" width="71.3" height="128.8" fill="#fff" stroke="#6a6a6a" stroke-width="1"/>
<g transform="translate(45.5 27.50)"><rect x="0.6" y="0.6" width="6.8" height="6.8" fill="#fff"/><path d="M1.2 2.4H5.8V5H1.2Z" fill="#111"/><path d="M4.4 1V6" stroke="#111" stroke-width="1.8"/><rect x="0.7" y="0.7" width="6.6" height="6.6" fill="none" stroke="#111" stroke-width="1.3"/></g>
<text x="55.6" y="35.10" class="lg">0 ng/ml</text>
<g transform="translate(45.5 43.67)"><rect x="0.6" y="0.6" width="6.8" height="6.8" fill="#fff"/><path d="M1 1L7 7" stroke="#111" stroke-width="2.2"/><rect x="0.7" y="0.7" width="6.6" height="6.6" fill="none" stroke="#111" stroke-width="1.3"/></g>
<text x="55.6" y="51.27" class="lg">1ng/ml</text>
<g transform="translate(45.5 59.84)"><rect x="0.6" y="0.6" width="6.8" height="6.8" fill="#fff"/><path d="M1 1L7 7M1 3.4L4.6 7M3.4 1L7 4.6M1 5.8L2.2 7M5.8 1L7 2.2" stroke="#111" stroke-width="1.05"/><rect x="0.7" y="0.7" width="6.6" height="6.6" fill="none" stroke="#111" stroke-width="1.3"/></g>
<text x="55.6" y="67.44" class="lg">10 ng/ml</text>
<g transform="translate(45.5 76.01)"><rect x="0.6" y="0.6" width="6.8" height="6.8" fill="#fff"/><path d="M1.4 2L4 4L6.6 2M1.4 4.6L4 6.6L6.6 4.6" stroke="#111" stroke-width="1.1" fill="none"/><rect x="0.7" y="0.7" width="6.6" height="6.6" fill="none" stroke="#111" stroke-width="1.3"/></g>
<text x="55.6" y="83.61" class="lg">100  ng/ml</text>
<g transform="translate(45.5 92.18)"><rect x="0.6" y="0.6" width="6.8" height="6.8" fill="#fff"/><path d="M1 1L3.3 3.3M7 1L4.7 3.3M1 7L3.3 4.7M7 7L4.7 4.7" stroke="#111" stroke-width="1.5"/><circle cx="4" cy="4" r="1" fill="#111"/><rect x="0.7" y="0.7" width="6.6" height="6.6" fill="none" stroke="#111" stroke-width="1.3"/></g>
<text x="55.6" y="99.78" class="lg">1 ug/ml</text>
<g transform="translate(45.5 108.35)"><rect x="0.6" y="0.6" width="6.8" height="6.8" fill="#fff"/><path d="M1 4H7M4 4V7" stroke="#111" stroke-width="1.2"/><rect x="0.7" y="0.7" width="6.6" height="6.6" fill="none" stroke="#111" stroke-width="1.3"/></g>
<text x="55.6" y="115.95" class="lg">10 ug/ml</text>
<g transform="translate(45.5 124.52)"><rect x="0.6" y="0.6" width="6.8" height="6.8" fill="#fff"/><path d="M4 1V7" stroke="#111" stroke-width="1.5"/><rect x="0.7" y="0.7" width="6.6" height="6.6" fill="none" stroke="#111" stroke-width="1.3"/></g>
<text x="55.6" y="132.12" class="lg">100 ug/ml</text>
<g transform="translate(45.5 140.69)"><rect x="0.6" y="0.6" width="6.8" height="6.8" fill="#666"/><rect x="0.7" y="0.7" width="6.6" height="6.6" fill="none" stroke="#111" stroke-width="1.3"/></g>
<text x="55.6" y="148.29" class="lg">500 ug/ml</text>
<!-- labels -->
<text x="67.6" y="300" class="b xl">ChSO<tspan class="sub" dy="2.1">4</tspan><tspan dy="-2.1">A</tspan></text>
<text x="155.3" y="300" class="b xl">ChSO<tspan class="sub" dy="2.1">4</tspan><tspan dy="-2.1">B</tspan></text>
<text x="246.0" y="300" class="b xl">ChSO<tspan class="sub" dy="2.1">4</tspan><tspan dy="-2.1">C</tspan></text>
<text x="336.7" y="300" class="b xl">DexSO<tspan class="sub" dy="2.1">4</tspan><tspan dy="-2.1"></tspan></text>
<text x="424.7" y="300" class="b xl">HepSO<tspan class="sub" dy="2.1">4</tspan><tspan dy="-2.1"></tspan></text>
<text x="221.3" y="320.3" class="b">Glycosaminoglycan</text>
<text transform="translate(10.4 201.6) rotate(-90)" class="b">Absorbance (405nm)</text>
</g>
</svg>
</body></html>
